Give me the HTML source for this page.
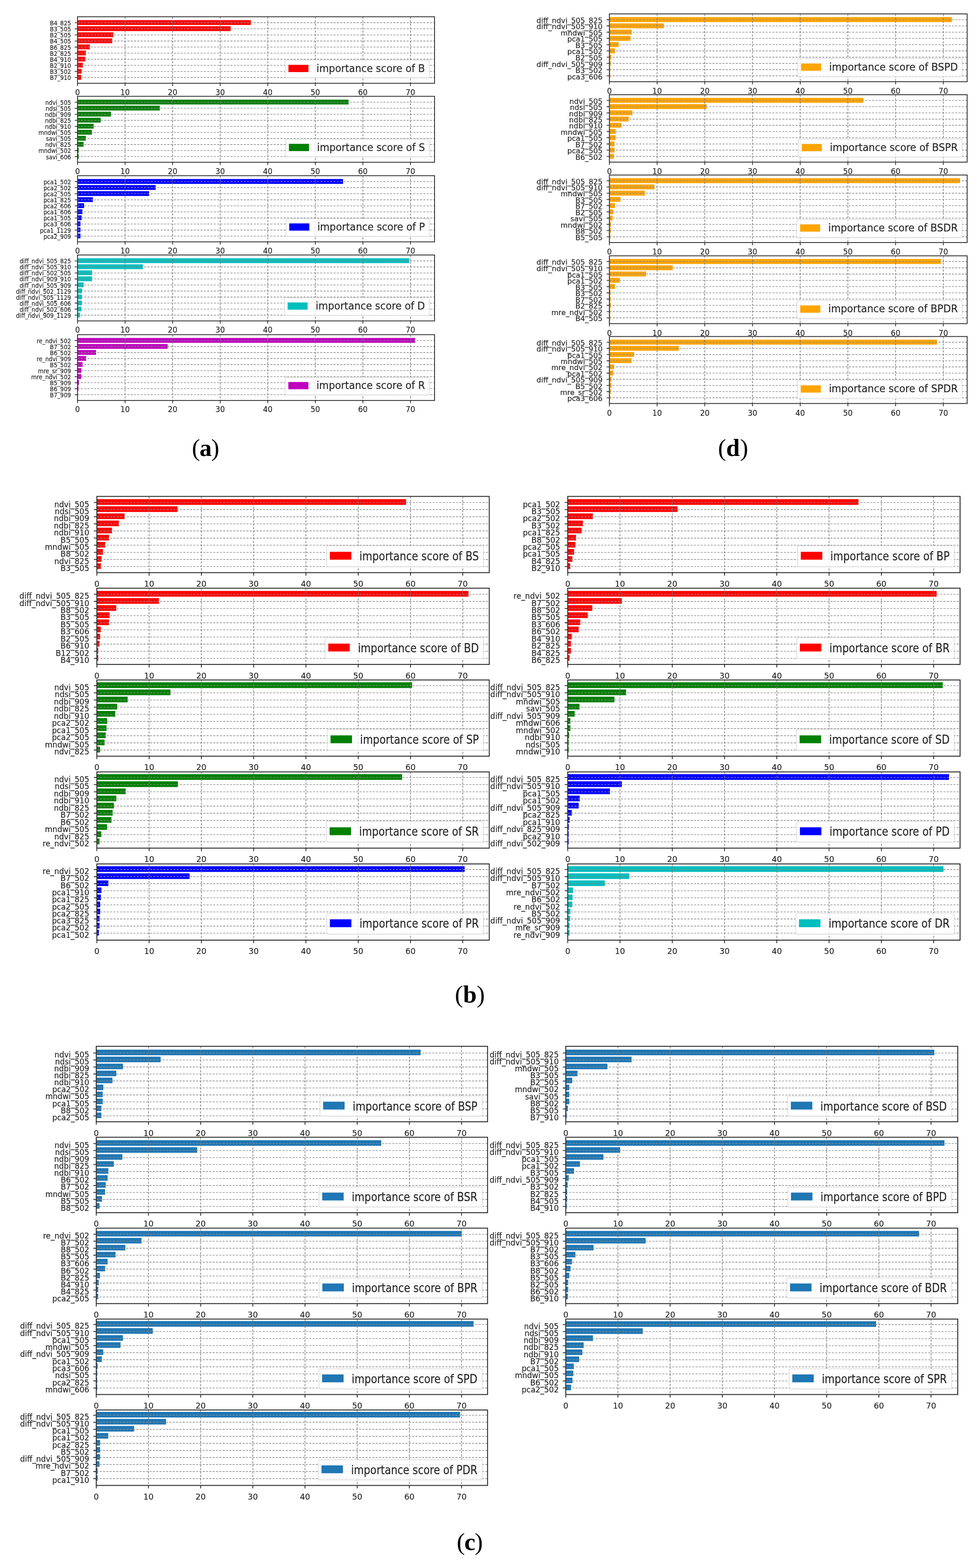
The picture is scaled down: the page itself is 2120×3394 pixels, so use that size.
<!DOCTYPE html>
<html><head><meta charset="utf-8"><title>Feature importance scores</title>
<style>html,body{margin:0;padding:0;background:#fff;}body{width:2120px;height:3394px;overflow:hidden;}svg{display:block;}</style></head><body>
<svg width="2120" height="3394" viewBox="0 0 2120 3394" font-family="'DejaVu Sans', 'Liberation Sans', sans-serif" fill="#262626">
<style>text{stroke:#262626;stroke-width:0.2px;}</style>
<rect x="167.8" y="43.54" width="375.44" height="10.54" fill="#ff0000"/>
<rect x="167.8" y="56.72" width="331.66" height="10.54" fill="#ff0000"/>
<rect x="167.8" y="69.89" width="77.77" height="10.54" fill="#ff0000"/>
<rect x="167.8" y="83.07" width="75.19" height="10.54" fill="#ff0000"/>
<rect x="167.8" y="96.24" width="26.78" height="10.54" fill="#ff0000"/>
<rect x="167.8" y="109.42" width="18.03" height="10.54" fill="#ff0000"/>
<rect x="167.8" y="122.59" width="17" height="10.54" fill="#ff0000"/>
<rect x="167.8" y="135.77" width="11.64" height="10.54" fill="#ff0000"/>
<rect x="167.8" y="148.94" width="8.96" height="10.54" fill="#ff0000"/>
<rect x="167.8" y="162.12" width="7.93" height="10.54" fill="#ff0000"/>
<path d="M167.8 49.21H941M167.8 62.39H941M167.8 75.56H941M167.8 88.74H941M167.8 101.91H941M167.8 115.09H941M167.8 128.26H941M167.8 141.44H941M167.8 154.61H941M167.8 167.79H941" stroke="#8a8a8a" stroke-width="1.35" stroke-dasharray="4.6 2.6" fill="none"/>
<path d="M167.8 36.3V180.3M270.8 36.3V180.3M373.8 36.3V180.3M476.8 36.3V180.3M579.8 36.3V180.3M682.8 36.3V180.3M785.8 36.3V180.3M888.8 36.3V180.3" stroke="#767676" stroke-width="1.35" stroke-dasharray="4.8 2.6" fill="none"/>
<rect x="617.67" y="130.2" width="312.13" height="38.4" rx="3" fill="#fff" fill-opacity="0.8" stroke="#d2d2d2" stroke-width="1.2"/>
<rect x="624.57" y="140.35" width="43.4" height="15.7" fill="#ff0000"/>
<text transform="translate(685.37 155.65) scale(1 1.1)" font-size="21.35">importance score of B</text>
<rect x="167.8" y="36.3" width="773.2" height="144" fill="none" stroke="#2a2a2a" stroke-width="1.8"/>
<path d="M161.8 49.21H167.8M161.8 62.39H167.8M161.8 75.56H167.8M161.8 88.74H167.8M161.8 101.91H167.8M161.8 115.09H167.8M161.8 128.26H167.8M161.8 141.44H167.8M161.8 154.61H167.8M161.8 167.79H167.8M167.8 180.3V186.3M270.8 180.3V186.3M373.8 180.3V186.3M476.8 180.3V186.3M579.8 180.3V186.3M682.8 180.3V186.3M785.8 180.3V186.3M888.8 180.3V186.3" stroke="#2a2a2a" stroke-width="1.62" fill="none"/>
<text transform="translate(167.8 205.6) scale(1 1.05)" font-size="16.2" text-anchor="middle">0</text>
<text transform="translate(270.8 205.6) scale(1 1.05)" font-size="16.2" text-anchor="middle">10</text>
<text transform="translate(373.8 205.6) scale(1 1.05)" font-size="16.2" text-anchor="middle">20</text>
<text transform="translate(476.8 205.6) scale(1 1.05)" font-size="16.2" text-anchor="middle">30</text>
<text transform="translate(579.8 205.6) scale(1 1.05)" font-size="16.2" text-anchor="middle">40</text>
<text transform="translate(682.8 205.6) scale(1 1.05)" font-size="16.2" text-anchor="middle">50</text>
<text transform="translate(785.8 205.6) scale(1 1.05)" font-size="16.2" text-anchor="middle">60</text>
<text transform="translate(888.8 205.6) scale(1 1.05)" font-size="16.2" text-anchor="middle">70</text>
<text transform="translate(153.8 54.82) scale(1 1.13)" font-size="12.3" text-anchor="end">B4_825</text>
<text transform="translate(153.8 67.99) scale(1 1.13)" font-size="12.3" text-anchor="end">B3_505</text>
<text transform="translate(153.8 81.17) scale(1 1.13)" font-size="12.3" text-anchor="end">B2_505</text>
<text transform="translate(153.8 94.34) scale(1 1.13)" font-size="12.3" text-anchor="end">B4_505</text>
<text transform="translate(153.8 107.52) scale(1 1.13)" font-size="12.3" text-anchor="end">B6_825</text>
<text transform="translate(153.8 120.69) scale(1 1.13)" font-size="12.3" text-anchor="end">B2_825</text>
<text transform="translate(153.8 133.87) scale(1 1.13)" font-size="12.3" text-anchor="end">B4_910</text>
<text transform="translate(153.8 147.04) scale(1 1.13)" font-size="12.3" text-anchor="end">B2_910</text>
<text transform="translate(153.8 160.22) scale(1 1.13)" font-size="12.3" text-anchor="end">B3_502</text>
<text transform="translate(153.8 173.39) scale(1 1.13)" font-size="12.3" text-anchor="end">B7_910</text>
<rect x="167.8" y="215.68" width="587.1" height="10.45" fill="#008000"/>
<rect x="167.8" y="228.75" width="178.19" height="10.45" fill="#008000"/>
<rect x="167.8" y="241.81" width="72.51" height="10.45" fill="#008000"/>
<rect x="167.8" y="254.88" width="50.26" height="10.45" fill="#008000"/>
<rect x="167.8" y="267.94" width="34.92" height="10.45" fill="#008000"/>
<rect x="167.8" y="281.01" width="31.21" height="10.45" fill="#008000"/>
<rect x="167.8" y="294.07" width="18.03" height="10.45" fill="#008000"/>
<rect x="167.8" y="307.14" width="13.18" height="10.45" fill="#008000"/>
<rect x="167.8" y="320.2" width="2.68" height="10.45" fill="#008000"/>
<rect x="167.8" y="333.27" width="2.68" height="10.45" fill="#008000"/>
<path d="M167.8 221.31H941M167.8 234.37H941M167.8 247.44H941M167.8 260.5H941M167.8 273.57H941M167.8 286.63H941M167.8 299.7H941M167.8 312.76H941M167.8 325.83H941M167.8 338.89H941" stroke="#8a8a8a" stroke-width="1.35" stroke-dasharray="4.6 2.6" fill="none"/>
<path d="M167.8 208.5V351.3M270.8 208.5V351.3M373.8 208.5V351.3M476.8 208.5V351.3M579.8 208.5V351.3M682.8 208.5V351.3M785.8 208.5V351.3M888.8 208.5V351.3" stroke="#767676" stroke-width="1.35" stroke-dasharray="4.8 2.6" fill="none"/>
<rect x="618.76" y="301.2" width="311.04" height="38.4" rx="3" fill="#fff" fill-opacity="0.8" stroke="#d2d2d2" stroke-width="1.2"/>
<rect x="625.66" y="311.35" width="43.4" height="15.7" fill="#008000"/>
<text transform="translate(686.46 326.65) scale(1 1.1)" font-size="21.35">importance score of S</text>
<rect x="167.8" y="208.5" width="773.2" height="142.8" fill="none" stroke="#2a2a2a" stroke-width="1.8"/>
<path d="M161.8 221.31H167.8M161.8 234.37H167.8M161.8 247.44H167.8M161.8 260.5H167.8M161.8 273.57H167.8M161.8 286.63H167.8M161.8 299.7H167.8M161.8 312.76H167.8M161.8 325.83H167.8M161.8 338.89H167.8M167.8 351.3V357.3M270.8 351.3V357.3M373.8 351.3V357.3M476.8 351.3V357.3M579.8 351.3V357.3M682.8 351.3V357.3M785.8 351.3V357.3M888.8 351.3V357.3" stroke="#2a2a2a" stroke-width="1.62" fill="none"/>
<text transform="translate(167.8 376.6) scale(1 1.05)" font-size="16.2" text-anchor="middle">0</text>
<text transform="translate(270.8 376.6) scale(1 1.05)" font-size="16.2" text-anchor="middle">10</text>
<text transform="translate(373.8 376.6) scale(1 1.05)" font-size="16.2" text-anchor="middle">20</text>
<text transform="translate(476.8 376.6) scale(1 1.05)" font-size="16.2" text-anchor="middle">30</text>
<text transform="translate(579.8 376.6) scale(1 1.05)" font-size="16.2" text-anchor="middle">40</text>
<text transform="translate(682.8 376.6) scale(1 1.05)" font-size="16.2" text-anchor="middle">50</text>
<text transform="translate(785.8 376.6) scale(1 1.05)" font-size="16.2" text-anchor="middle">60</text>
<text transform="translate(888.8 376.6) scale(1 1.05)" font-size="16.2" text-anchor="middle">70</text>
<text transform="translate(153.8 226.91) scale(1 1.13)" font-size="12.3" text-anchor="end">ndvi_505</text>
<text transform="translate(153.8 239.98) scale(1 1.13)" font-size="12.3" text-anchor="end">ndsi_505</text>
<text transform="translate(153.8 253.04) scale(1 1.13)" font-size="12.3" text-anchor="end">ndbi_909</text>
<text transform="translate(153.8 266.11) scale(1 1.13)" font-size="12.3" text-anchor="end">ndbi_825</text>
<text transform="translate(153.8 279.17) scale(1 1.13)" font-size="12.3" text-anchor="end">ndbi_910</text>
<text transform="translate(153.8 292.24) scale(1 1.13)" font-size="12.3" text-anchor="end">mndwi_505</text>
<text transform="translate(153.8 305.3) scale(1 1.13)" font-size="12.3" text-anchor="end">savi_505</text>
<text transform="translate(153.8 318.37) scale(1 1.13)" font-size="12.3" text-anchor="end">ndvi_825</text>
<text transform="translate(153.8 331.43) scale(1 1.13)" font-size="12.3" text-anchor="end">mndwi_502</text>
<text transform="translate(153.8 344.5) scale(1 1.13)" font-size="12.3" text-anchor="end">savi_606</text>
<rect x="167.8" y="387.5" width="575.05" height="10.48" fill="#0000ff"/>
<rect x="167.8" y="400.6" width="169.33" height="10.48" fill="#0000ff"/>
<rect x="167.8" y="413.71" width="155.02" height="10.48" fill="#0000ff"/>
<rect x="167.8" y="426.81" width="33.37" height="10.48" fill="#0000ff"/>
<rect x="167.8" y="439.91" width="14.32" height="10.48" fill="#0000ff"/>
<rect x="167.8" y="453.01" width="10.61" height="10.48" fill="#0000ff"/>
<rect x="167.8" y="466.11" width="8.96" height="10.48" fill="#0000ff"/>
<rect x="167.8" y="479.21" width="6.39" height="10.48" fill="#0000ff"/>
<rect x="167.8" y="492.31" width="6.39" height="10.48" fill="#0000ff"/>
<rect x="167.8" y="505.42" width="6.39" height="10.48" fill="#0000ff"/>
<path d="M167.8 393.14H941M167.8 406.24H941M167.8 419.35H941M167.8 432.45H941M167.8 445.55H941M167.8 458.65H941M167.8 471.75H941M167.8 484.85H941M167.8 497.96H941M167.8 511.06H941" stroke="#8a8a8a" stroke-width="1.35" stroke-dasharray="4.6 2.6" fill="none"/>
<path d="M167.8 380.3V523.5M270.8 380.3V523.5M373.8 380.3V523.5M476.8 380.3V523.5M579.8 380.3V523.5M682.8 380.3V523.5M785.8 380.3V523.5M888.8 380.3V523.5" stroke="#767676" stroke-width="1.35" stroke-dasharray="4.8 2.6" fill="none"/>
<rect x="619.44" y="473.4" width="310.36" height="38.4" rx="3" fill="#fff" fill-opacity="0.8" stroke="#d2d2d2" stroke-width="1.2"/>
<rect x="626.34" y="483.55" width="43.4" height="15.7" fill="#0000ff"/>
<text transform="translate(687.14 498.85) scale(1 1.1)" font-size="21.35">importance score of P</text>
<rect x="167.8" y="380.3" width="773.2" height="143.2" fill="none" stroke="#2a2a2a" stroke-width="1.8"/>
<path d="M161.8 393.14H167.8M161.8 406.24H167.8M161.8 419.35H167.8M161.8 432.45H167.8M161.8 445.55H167.8M161.8 458.65H167.8M161.8 471.75H167.8M161.8 484.85H167.8M161.8 497.96H167.8M161.8 511.06H167.8M167.8 523.5V529.5M270.8 523.5V529.5M373.8 523.5V529.5M476.8 523.5V529.5M579.8 523.5V529.5M682.8 523.5V529.5M785.8 523.5V529.5M888.8 523.5V529.5" stroke="#2a2a2a" stroke-width="1.62" fill="none"/>
<text transform="translate(167.8 548.8) scale(1 1.05)" font-size="16.2" text-anchor="middle">0</text>
<text transform="translate(270.8 548.8) scale(1 1.05)" font-size="16.2" text-anchor="middle">10</text>
<text transform="translate(373.8 548.8) scale(1 1.05)" font-size="16.2" text-anchor="middle">20</text>
<text transform="translate(476.8 548.8) scale(1 1.05)" font-size="16.2" text-anchor="middle">30</text>
<text transform="translate(579.8 548.8) scale(1 1.05)" font-size="16.2" text-anchor="middle">40</text>
<text transform="translate(682.8 548.8) scale(1 1.05)" font-size="16.2" text-anchor="middle">50</text>
<text transform="translate(785.8 548.8) scale(1 1.05)" font-size="16.2" text-anchor="middle">60</text>
<text transform="translate(888.8 548.8) scale(1 1.05)" font-size="16.2" text-anchor="middle">70</text>
<text transform="translate(153.8 398.75) scale(1 1.13)" font-size="12.3" text-anchor="end">pca1_502</text>
<text transform="translate(153.8 411.85) scale(1 1.13)" font-size="12.3" text-anchor="end">pca2_502</text>
<text transform="translate(153.8 424.95) scale(1 1.13)" font-size="12.3" text-anchor="end">pca2_505</text>
<text transform="translate(153.8 438.05) scale(1 1.13)" font-size="12.3" text-anchor="end">pca1_825</text>
<text transform="translate(153.8 451.15) scale(1 1.13)" font-size="12.3" text-anchor="end">pca2_606</text>
<text transform="translate(153.8 464.25) scale(1 1.13)" font-size="12.3" text-anchor="end">pca1_606</text>
<text transform="translate(153.8 477.36) scale(1 1.13)" font-size="12.3" text-anchor="end">pca1_505</text>
<text transform="translate(153.8 490.46) scale(1 1.13)" font-size="12.3" text-anchor="end">pca3_606</text>
<text transform="translate(153.8 503.56) scale(1 1.13)" font-size="12.3" text-anchor="end">pca1_1129</text>
<text transform="translate(153.8 516.66) scale(1 1.13)" font-size="12.3" text-anchor="end">pca2_909</text>
<rect x="167.8" y="559.08" width="718.43" height="10.44" fill="#00bfbf"/>
<rect x="167.8" y="572.13" width="141.73" height="10.44" fill="#00bfbf"/>
<rect x="167.8" y="585.19" width="31.52" height="10.44" fill="#00bfbf"/>
<rect x="167.8" y="598.24" width="31.52" height="10.44" fill="#00bfbf"/>
<rect x="167.8" y="611.3" width="13.39" height="10.44" fill="#00bfbf"/>
<rect x="167.8" y="624.36" width="9.79" height="10.44" fill="#00bfbf"/>
<rect x="167.8" y="637.41" width="9.58" height="10.44" fill="#00bfbf"/>
<rect x="167.8" y="650.47" width="9.58" height="10.44" fill="#00bfbf"/>
<rect x="167.8" y="663.52" width="8.45" height="10.44" fill="#00bfbf"/>
<rect x="167.8" y="676.58" width="5.67" height="10.44" fill="#00bfbf"/>
<path d="M167.8 564.7H941M167.8 577.75H941M167.8 590.81H941M167.8 603.87H941M167.8 616.92H941M167.8 629.98H941M167.8 643.03H941M167.8 656.09H941M167.8 669.15H941M167.8 682.2H941" stroke="#8a8a8a" stroke-width="1.35" stroke-dasharray="4.6 2.6" fill="none"/>
<path d="M167.8 551.9V694.6M270.8 551.9V694.6M373.8 551.9V694.6M476.8 551.9V694.6M579.8 551.9V694.6M682.8 551.9V694.6M785.8 551.9V694.6M888.8 551.9V694.6" stroke="#767676" stroke-width="1.35" stroke-dasharray="4.8 2.6" fill="none"/>
<rect x="615.88" y="644.5" width="313.92" height="38.4" rx="3" fill="#fff" fill-opacity="0.8" stroke="#d2d2d2" stroke-width="1.2"/>
<rect x="622.78" y="654.65" width="43.4" height="15.7" fill="#00bfbf"/>
<text transform="translate(683.58 669.95) scale(1 1.1)" font-size="21.35">importance score of D</text>
<rect x="167.8" y="551.9" width="773.2" height="142.7" fill="none" stroke="#2a2a2a" stroke-width="1.8"/>
<path d="M161.8 564.7H167.8M161.8 577.75H167.8M161.8 590.81H167.8M161.8 603.87H167.8M161.8 616.92H167.8M161.8 629.98H167.8M161.8 643.03H167.8M161.8 656.09H167.8M161.8 669.15H167.8M161.8 682.2H167.8M167.8 694.6V700.6M270.8 694.6V700.6M373.8 694.6V700.6M476.8 694.6V700.6M579.8 694.6V700.6M682.8 694.6V700.6M785.8 694.6V700.6M888.8 694.6V700.6" stroke="#2a2a2a" stroke-width="1.62" fill="none"/>
<text transform="translate(167.8 719.9) scale(1 1.05)" font-size="16.2" text-anchor="middle">0</text>
<text transform="translate(270.8 719.9) scale(1 1.05)" font-size="16.2" text-anchor="middle">10</text>
<text transform="translate(373.8 719.9) scale(1 1.05)" font-size="16.2" text-anchor="middle">20</text>
<text transform="translate(476.8 719.9) scale(1 1.05)" font-size="16.2" text-anchor="middle">30</text>
<text transform="translate(579.8 719.9) scale(1 1.05)" font-size="16.2" text-anchor="middle">40</text>
<text transform="translate(682.8 719.9) scale(1 1.05)" font-size="16.2" text-anchor="middle">50</text>
<text transform="translate(785.8 719.9) scale(1 1.05)" font-size="16.2" text-anchor="middle">60</text>
<text transform="translate(888.8 719.9) scale(1 1.05)" font-size="16.2" text-anchor="middle">70</text>
<text transform="translate(153.8 570.3) scale(1 1.13)" font-size="12.3" text-anchor="end">diff_ndvi_505_825</text>
<text transform="translate(153.8 583.36) scale(1 1.13)" font-size="12.3" text-anchor="end">diff_ndvi_505_910</text>
<text transform="translate(153.8 596.41) scale(1 1.13)" font-size="12.3" text-anchor="end">diff_ndvi_502_505</text>
<text transform="translate(153.8 609.47) scale(1 1.13)" font-size="12.3" text-anchor="end">diff_ndvi_909_910</text>
<text transform="translate(153.8 622.53) scale(1 1.13)" font-size="12.3" text-anchor="end">diff_ndvi_505_909</text>
<text transform="translate(153.8 635.58) scale(1 1.13)" font-size="12.3" text-anchor="end">diff_ndvi_502_1129</text>
<text transform="translate(153.8 648.64) scale(1 1.13)" font-size="12.3" text-anchor="end">diff_ndvi_505_1129</text>
<text transform="translate(153.8 661.69) scale(1 1.13)" font-size="12.3" text-anchor="end">diff_ndvi_505_606</text>
<text transform="translate(153.8 674.75) scale(1 1.13)" font-size="12.3" text-anchor="end">diff_ndvi_502_606</text>
<text transform="translate(153.8 687.8) scale(1 1.13)" font-size="12.3" text-anchor="end">diff_ndvi_909_1129</text>
<rect x="167.8" y="731.56" width="731.09" height="10.42" fill="#bf00bf"/>
<rect x="167.8" y="744.59" width="195.19" height="10.42" fill="#bf00bf"/>
<rect x="167.8" y="757.62" width="40.17" height="10.42" fill="#bf00bf"/>
<rect x="167.8" y="770.65" width="18.54" height="10.42" fill="#bf00bf"/>
<rect x="167.8" y="783.67" width="11.12" height="10.42" fill="#bf00bf"/>
<rect x="167.8" y="796.7" width="8.45" height="10.42" fill="#bf00bf"/>
<rect x="167.8" y="809.73" width="8.45" height="10.42" fill="#bf00bf"/>
<rect x="167.8" y="822.76" width="3.19" height="10.42" fill="#bf00bf"/>
<rect x="167.8" y="835.79" width="2" height="10.42" fill="#bf00bf"/>
<path d="M167.8 737.17H941M167.8 750.2H941M167.8 763.23H941M167.8 776.26H941M167.8 789.29H941M167.8 802.31H941M167.8 815.34H941M167.8 828.37H941M167.8 841.4H941M167.8 854.43H941" stroke="#8a8a8a" stroke-width="1.35" stroke-dasharray="4.6 2.6" fill="none"/>
<path d="M167.8 724.4V866.8M270.8 724.4V866.8M373.8 724.4V866.8M476.8 724.4V866.8M579.8 724.4V866.8M682.8 724.4V866.8M785.8 724.4V866.8M888.8 724.4V866.8" stroke="#767676" stroke-width="1.35" stroke-dasharray="4.8 2.6" fill="none"/>
<rect x="617.48" y="816.7" width="312.32" height="38.4" rx="3" fill="#fff" fill-opacity="0.8" stroke="#d2d2d2" stroke-width="1.2"/>
<rect x="624.38" y="826.85" width="43.4" height="15.7" fill="#bf00bf"/>
<text transform="translate(685.18 842.15) scale(1 1.1)" font-size="21.35">importance score of R</text>
<rect x="167.8" y="724.4" width="773.2" height="142.4" fill="none" stroke="#2a2a2a" stroke-width="1.8"/>
<path d="M161.8 737.17H167.8M161.8 750.2H167.8M161.8 763.23H167.8M161.8 776.26H167.8M161.8 789.29H167.8M161.8 802.31H167.8M161.8 815.34H167.8M161.8 828.37H167.8M161.8 841.4H167.8M161.8 854.43H167.8M167.8 866.8V872.8M270.8 866.8V872.8M373.8 866.8V872.8M476.8 866.8V872.8M579.8 866.8V872.8M682.8 866.8V872.8M785.8 866.8V872.8M888.8 866.8V872.8" stroke="#2a2a2a" stroke-width="1.62" fill="none"/>
<text transform="translate(167.8 892.1) scale(1 1.05)" font-size="16.2" text-anchor="middle">0</text>
<text transform="translate(270.8 892.1) scale(1 1.05)" font-size="16.2" text-anchor="middle">10</text>
<text transform="translate(373.8 892.1) scale(1 1.05)" font-size="16.2" text-anchor="middle">20</text>
<text transform="translate(476.8 892.1) scale(1 1.05)" font-size="16.2" text-anchor="middle">30</text>
<text transform="translate(579.8 892.1) scale(1 1.05)" font-size="16.2" text-anchor="middle">40</text>
<text transform="translate(682.8 892.1) scale(1 1.05)" font-size="16.2" text-anchor="middle">50</text>
<text transform="translate(785.8 892.1) scale(1 1.05)" font-size="16.2" text-anchor="middle">60</text>
<text transform="translate(888.8 892.1) scale(1 1.05)" font-size="16.2" text-anchor="middle">70</text>
<text transform="translate(153.8 742.78) scale(1 1.13)" font-size="12.3" text-anchor="end">re_ndvi_502</text>
<text transform="translate(153.8 755.8) scale(1 1.13)" font-size="12.3" text-anchor="end">B7_502</text>
<text transform="translate(153.8 768.83) scale(1 1.13)" font-size="12.3" text-anchor="end">B6_502</text>
<text transform="translate(153.8 781.86) scale(1 1.13)" font-size="12.3" text-anchor="end">re_ndvi_909</text>
<text transform="translate(153.8 794.89) scale(1 1.13)" font-size="12.3" text-anchor="end">B5_502</text>
<text transform="translate(153.8 807.92) scale(1 1.13)" font-size="12.3" text-anchor="end">mre_sr_909</text>
<text transform="translate(153.8 820.95) scale(1 1.13)" font-size="12.3" text-anchor="end">mre_ndvi_502</text>
<text transform="translate(153.8 833.97) scale(1 1.13)" font-size="12.3" text-anchor="end">B5_909</text>
<text transform="translate(153.8 847) scale(1 1.13)" font-size="12.3" text-anchor="end">B6_909</text>
<text transform="translate(153.8 860.03) scale(1 1.13)" font-size="12.3" text-anchor="end">B7_909</text>
<rect x="1319.6" y="37" width="741.69" height="10.82" fill="#ffa500"/>
<rect x="1319.6" y="50.52" width="118.07" height="10.82" fill="#ffa500"/>
<rect x="1319.6" y="64.04" width="48.34" height="10.82" fill="#ffa500"/>
<rect x="1319.6" y="77.56" width="45.66" height="10.82" fill="#ffa500"/>
<rect x="1319.6" y="91.08" width="20.04" height="10.82" fill="#ffa500"/>
<rect x="1319.6" y="104.6" width="11.98" height="10.82" fill="#ffa500"/>
<rect x="1319.6" y="118.12" width="4.34" height="10.82" fill="#ffa500"/>
<rect x="1319.6" y="131.64" width="2.89" height="10.82" fill="#ffa500"/>
<rect x="1319.6" y="145.16" width="2" height="10.82" fill="#ffa500"/>
<rect x="1319.6" y="158.69" width="2" height="10.82" fill="#ffa500"/>
<path d="M1319.6 42.61H2094.4M1319.6 56.13H2094.4M1319.6 69.65H2094.4M1319.6 83.17H2094.4M1319.6 96.69H2094.4M1319.6 110.21H2094.4M1319.6 123.73H2094.4M1319.6 137.25H2094.4M1319.6 150.77H2094.4M1319.6 164.29H2094.4" stroke="#8a8a8a" stroke-width="1.35" stroke-dasharray="4.6 2.6" fill="none"/>
<path d="M1319.6 30.1V176.8M1422.9 30.1V176.8M1526.2 30.1V176.8M1629.5 30.1V176.8M1732.8 30.1V176.8M1836.1 30.1V176.8M1939.4 30.1V176.8M2042.7 30.1V176.8" stroke="#767676" stroke-width="1.35" stroke-dasharray="4.8 2.6" fill="none"/>
<rect x="1727.14" y="126.7" width="356.36" height="39.7" rx="3" fill="#fff" fill-opacity="0.8" stroke="#d2d2d2" stroke-width="1.2"/>
<rect x="1734.64" y="137.5" width="43.4" height="15.7" fill="#ffa500"/>
<text transform="translate(1795.44 152.75) scale(1 1.1)" font-size="21.46">importance score of BSPD</text>
<rect x="1319.6" y="30.1" width="774.8" height="146.7" fill="none" stroke="#2a2a2a" stroke-width="1.8"/>
<path d="M1313.6 42.61H1319.6M1313.6 56.13H1319.6M1313.6 69.65H1319.6M1313.6 83.17H1319.6M1313.6 96.69H1319.6M1313.6 110.21H1319.6M1313.6 123.73H1319.6M1313.6 137.25H1319.6M1313.6 150.77H1319.6M1313.6 164.29H1319.6M1319.6 176.8V182.8M1422.9 176.8V182.8M1526.2 176.8V182.8M1629.5 176.8V182.8M1732.8 176.8V182.8M1836.1 176.8V182.8M1939.4 176.8V182.8M2042.7 176.8V182.8" stroke="#2a2a2a" stroke-width="1.62" fill="none"/>
<text transform="translate(1319.6 203) scale(1 1.05)" font-size="16.2" text-anchor="middle">0</text>
<text transform="translate(1422.9 203) scale(1 1.05)" font-size="16.2" text-anchor="middle">10</text>
<text transform="translate(1526.2 203) scale(1 1.05)" font-size="16.2" text-anchor="middle">20</text>
<text transform="translate(1629.5 203) scale(1 1.05)" font-size="16.2" text-anchor="middle">30</text>
<text transform="translate(1732.8 203) scale(1 1.05)" font-size="16.2" text-anchor="middle">40</text>
<text transform="translate(1836.1 203) scale(1 1.05)" font-size="16.2" text-anchor="middle">50</text>
<text transform="translate(1939.4 203) scale(1 1.05)" font-size="16.2" text-anchor="middle">60</text>
<text transform="translate(2042.7 203) scale(1 1.05)" font-size="16.2" text-anchor="middle">70</text>
<text transform="translate(1304.8 49.87) scale(1 0.96)" font-size="15.8" text-anchor="end">diff_ndvi_505_825</text>
<text transform="translate(1304.8 63.39) scale(1 0.96)" font-size="15.8" text-anchor="end">diff_ndvi_505_910</text>
<text transform="translate(1304.8 76.91) scale(1 0.96)" font-size="15.8" text-anchor="end">mndwi_505</text>
<text transform="translate(1304.8 90.43) scale(1 0.96)" font-size="15.8" text-anchor="end">pca1_505</text>
<text transform="translate(1304.8 103.95) scale(1 0.96)" font-size="15.8" text-anchor="end">B3_505</text>
<text transform="translate(1304.8 117.47) scale(1 0.96)" font-size="15.8" text-anchor="end">pca1_502</text>
<text transform="translate(1304.8 130.99) scale(1 0.96)" font-size="15.8" text-anchor="end">B2_505</text>
<text transform="translate(1304.8 144.51) scale(1 0.96)" font-size="15.8" text-anchor="end">diff_ndvi_505_909</text>
<text transform="translate(1304.8 158.03) scale(1 0.96)" font-size="15.8" text-anchor="end">B3_502</text>
<text transform="translate(1304.8 171.55) scale(1 0.96)" font-size="15.8" text-anchor="end">pca3_606</text>
<rect x="1319.6" y="211.86" width="549.87" height="10.76" fill="#ffa500"/>
<rect x="1319.6" y="225.31" width="210.73" height="10.76" fill="#ffa500"/>
<rect x="1319.6" y="238.75" width="49.79" height="10.76" fill="#ffa500"/>
<rect x="1319.6" y="252.2" width="41.94" height="10.76" fill="#ffa500"/>
<rect x="1319.6" y="265.65" width="26.24" height="10.76" fill="#ffa500"/>
<rect x="1319.6" y="279.09" width="13.74" height="10.76" fill="#ffa500"/>
<rect x="1319.6" y="292.54" width="13.74" height="10.76" fill="#ffa500"/>
<rect x="1319.6" y="305.99" width="10.95" height="10.76" fill="#ffa500"/>
<rect x="1319.6" y="319.44" width="10.95" height="10.76" fill="#ffa500"/>
<rect x="1319.6" y="332.88" width="9.71" height="10.76" fill="#ffa500"/>
<path d="M1319.6 217.44H2094.4M1319.6 230.89H2094.4M1319.6 244.33H2094.4M1319.6 257.78H2094.4M1319.6 271.23H2094.4M1319.6 284.67H2094.4M1319.6 298.12H2094.4M1319.6 311.57H2094.4M1319.6 325.01H2094.4M1319.6 338.46H2094.4" stroke="#8a8a8a" stroke-width="1.35" stroke-dasharray="4.6 2.6" fill="none"/>
<path d="M1319.6 205V350.9M1422.9 205V350.9M1526.2 205V350.9M1629.5 205V350.9M1732.8 205V350.9M1836.1 205V350.9M1939.4 205V350.9M2042.7 205V350.9" stroke="#767676" stroke-width="1.35" stroke-dasharray="4.8 2.6" fill="none"/>
<rect x="1728.76" y="300.8" width="354.74" height="39.7" rx="3" fill="#fff" fill-opacity="0.8" stroke="#d2d2d2" stroke-width="1.2"/>
<rect x="1736.26" y="311.6" width="43.4" height="15.7" fill="#ffa500"/>
<text transform="translate(1797.06 326.85) scale(1 1.1)" font-size="21.46">importance score of BSPR</text>
<rect x="1319.6" y="205" width="774.8" height="145.9" fill="none" stroke="#2a2a2a" stroke-width="1.8"/>
<path d="M1313.6 217.44H1319.6M1313.6 230.89H1319.6M1313.6 244.33H1319.6M1313.6 257.78H1319.6M1313.6 271.23H1319.6M1313.6 284.67H1319.6M1313.6 298.12H1319.6M1313.6 311.57H1319.6M1313.6 325.01H1319.6M1313.6 338.46H1319.6M1319.6 350.9V356.9M1422.9 350.9V356.9M1526.2 350.9V356.9M1629.5 350.9V356.9M1732.8 350.9V356.9M1836.1 350.9V356.9M1939.4 350.9V356.9M2042.7 350.9V356.9" stroke="#2a2a2a" stroke-width="1.62" fill="none"/>
<text transform="translate(1319.6 377.1) scale(1 1.05)" font-size="16.2" text-anchor="middle">0</text>
<text transform="translate(1422.9 377.1) scale(1 1.05)" font-size="16.2" text-anchor="middle">10</text>
<text transform="translate(1526.2 377.1) scale(1 1.05)" font-size="16.2" text-anchor="middle">20</text>
<text transform="translate(1629.5 377.1) scale(1 1.05)" font-size="16.2" text-anchor="middle">30</text>
<text transform="translate(1732.8 377.1) scale(1 1.05)" font-size="16.2" text-anchor="middle">40</text>
<text transform="translate(1836.1 377.1) scale(1 1.05)" font-size="16.2" text-anchor="middle">50</text>
<text transform="translate(1939.4 377.1) scale(1 1.05)" font-size="16.2" text-anchor="middle">60</text>
<text transform="translate(2042.7 377.1) scale(1 1.05)" font-size="16.2" text-anchor="middle">70</text>
<text transform="translate(1304.8 224.7) scale(1 0.96)" font-size="15.8" text-anchor="end">ndvi_505</text>
<text transform="translate(1304.8 238.15) scale(1 0.96)" font-size="15.8" text-anchor="end">ndsi_505</text>
<text transform="translate(1304.8 251.59) scale(1 0.96)" font-size="15.8" text-anchor="end">ndbi_909</text>
<text transform="translate(1304.8 265.04) scale(1 0.96)" font-size="15.8" text-anchor="end">ndbi_825</text>
<text transform="translate(1304.8 278.49) scale(1 0.96)" font-size="15.8" text-anchor="end">ndbi_910</text>
<text transform="translate(1304.8 291.93) scale(1 0.96)" font-size="15.8" text-anchor="end">mndwi_505</text>
<text transform="translate(1304.8 305.38) scale(1 0.96)" font-size="15.8" text-anchor="end">pca1_505</text>
<text transform="translate(1304.8 318.83) scale(1 0.96)" font-size="15.8" text-anchor="end">B7_502</text>
<text transform="translate(1304.8 332.27) scale(1 0.96)" font-size="15.8" text-anchor="end">pca2_505</text>
<text transform="translate(1304.8 345.72) scale(1 0.96)" font-size="15.8" text-anchor="end">B6_502</text>
<rect x="1319.6" y="385.67" width="759.25" height="10.78" fill="#ffa500"/>
<rect x="1319.6" y="399.15" width="97.52" height="10.78" fill="#ffa500"/>
<rect x="1319.6" y="412.62" width="76.86" height="10.78" fill="#ffa500"/>
<rect x="1319.6" y="426.1" width="23.86" height="10.78" fill="#ffa500"/>
<rect x="1319.6" y="439.57" width="12.19" height="10.78" fill="#ffa500"/>
<rect x="1319.6" y="453.05" width="8.47" height="10.78" fill="#ffa500"/>
<rect x="1319.6" y="466.52" width="6.92" height="10.78" fill="#ffa500"/>
<rect x="1319.6" y="480" width="3.31" height="10.78" fill="#ffa500"/>
<rect x="1319.6" y="493.47" width="3.31" height="10.78" fill="#ffa500"/>
<rect x="1319.6" y="506.95" width="2" height="10.78" fill="#ffa500"/>
<path d="M1319.6 391.26H2094.4M1319.6 404.74H2094.4M1319.6 418.21H2094.4M1319.6 431.69H2094.4M1319.6 445.16H2094.4M1319.6 458.64H2094.4M1319.6 472.11H2094.4M1319.6 485.59H2094.4M1319.6 499.06H2094.4M1319.6 512.54H2094.4" stroke="#8a8a8a" stroke-width="1.35" stroke-dasharray="4.6 2.6" fill="none"/>
<path d="M1319.6 378.8V525M1422.9 378.8V525M1526.2 378.8V525M1629.5 378.8V525M1732.8 378.8V525M1836.1 378.8V525M1939.4 378.8V525M2042.7 378.8V525" stroke="#767676" stroke-width="1.35" stroke-dasharray="4.8 2.6" fill="none"/>
<rect x="1725.17" y="474.9" width="358.33" height="39.7" rx="3" fill="#fff" fill-opacity="0.8" stroke="#d2d2d2" stroke-width="1.2"/>
<rect x="1732.67" y="485.7" width="43.4" height="15.7" fill="#ffa500"/>
<text transform="translate(1793.47 500.95) scale(1 1.1)" font-size="21.46">importance score of BSDR</text>
<rect x="1319.6" y="378.8" width="774.8" height="146.2" fill="none" stroke="#2a2a2a" stroke-width="1.8"/>
<path d="M1313.6 391.26H1319.6M1313.6 404.74H1319.6M1313.6 418.21H1319.6M1313.6 431.69H1319.6M1313.6 445.16H1319.6M1313.6 458.64H1319.6M1313.6 472.11H1319.6M1313.6 485.59H1319.6M1313.6 499.06H1319.6M1313.6 512.54H1319.6M1319.6 525V531M1422.9 525V531M1526.2 525V531M1629.5 525V531M1732.8 525V531M1836.1 525V531M1939.4 525V531M2042.7 525V531" stroke="#2a2a2a" stroke-width="1.62" fill="none"/>
<text transform="translate(1319.6 551.2) scale(1 1.05)" font-size="16.2" text-anchor="middle">0</text>
<text transform="translate(1422.9 551.2) scale(1 1.05)" font-size="16.2" text-anchor="middle">10</text>
<text transform="translate(1526.2 551.2) scale(1 1.05)" font-size="16.2" text-anchor="middle">20</text>
<text transform="translate(1629.5 551.2) scale(1 1.05)" font-size="16.2" text-anchor="middle">30</text>
<text transform="translate(1732.8 551.2) scale(1 1.05)" font-size="16.2" text-anchor="middle">40</text>
<text transform="translate(1836.1 551.2) scale(1 1.05)" font-size="16.2" text-anchor="middle">50</text>
<text transform="translate(1939.4 551.2) scale(1 1.05)" font-size="16.2" text-anchor="middle">60</text>
<text transform="translate(2042.7 551.2) scale(1 1.05)" font-size="16.2" text-anchor="middle">70</text>
<text transform="translate(1304.8 398.52) scale(1 0.96)" font-size="15.8" text-anchor="end">diff_ndvi_505_825</text>
<text transform="translate(1304.8 412) scale(1 0.96)" font-size="15.8" text-anchor="end">diff_ndvi_505_910</text>
<text transform="translate(1304.8 425.47) scale(1 0.96)" font-size="15.8" text-anchor="end">mndwi_505</text>
<text transform="translate(1304.8 438.95) scale(1 0.96)" font-size="15.8" text-anchor="end">B3_505</text>
<text transform="translate(1304.8 452.42) scale(1 0.96)" font-size="15.8" text-anchor="end">B7_502</text>
<text transform="translate(1304.8 465.9) scale(1 0.96)" font-size="15.8" text-anchor="end">B2_505</text>
<text transform="translate(1304.8 479.37) scale(1 0.96)" font-size="15.8" text-anchor="end">savi_505</text>
<text transform="translate(1304.8 492.85) scale(1 0.96)" font-size="15.8" text-anchor="end">mndwi_502</text>
<text transform="translate(1304.8 506.32) scale(1 0.96)" font-size="15.8" text-anchor="end">B8_502</text>
<text transform="translate(1304.8 519.8) scale(1 0.96)" font-size="15.8" text-anchor="end">B5_505</text>
<rect x="1319.6" y="560.6" width="717.94" height="10.82" fill="#ffa500"/>
<rect x="1319.6" y="574.13" width="137.18" height="10.82" fill="#ffa500"/>
<rect x="1319.6" y="587.66" width="79.44" height="10.82" fill="#ffa500"/>
<rect x="1319.6" y="601.19" width="22.73" height="10.82" fill="#ffa500"/>
<rect x="1319.6" y="614.72" width="12.19" height="10.82" fill="#ffa500"/>
<rect x="1319.6" y="628.25" width="2.69" height="10.82" fill="#ffa500"/>
<rect x="1319.6" y="641.78" width="2.69" height="10.82" fill="#ffa500"/>
<rect x="1319.6" y="655.31" width="3.2" height="10.82" fill="#ffa500"/>
<rect x="1319.6" y="668.84" width="2" height="10.82" fill="#ffa500"/>
<rect x="1319.6" y="682.37" width="2" height="10.82" fill="#ffa500"/>
<path d="M1319.6 566.22H2094.4M1319.6 579.75H2094.4M1319.6 593.28H2094.4M1319.6 606.81H2094.4M1319.6 620.34H2094.4M1319.6 633.86H2094.4M1319.6 647.39H2094.4M1319.6 660.92H2094.4M1319.6 674.45H2094.4M1319.6 687.98H2094.4" stroke="#8a8a8a" stroke-width="1.35" stroke-dasharray="4.6 2.6" fill="none"/>
<path d="M1319.6 553.7V700.5M1422.9 553.7V700.5M1526.2 553.7V700.5M1629.5 553.7V700.5M1732.8 553.7V700.5M1836.1 553.7V700.5M1939.4 553.7V700.5M2042.7 553.7V700.5" stroke="#767676" stroke-width="1.35" stroke-dasharray="4.8 2.6" fill="none"/>
<rect x="1725.48" y="650.4" width="358.02" height="39.7" rx="3" fill="#fff" fill-opacity="0.8" stroke="#d2d2d2" stroke-width="1.2"/>
<rect x="1732.98" y="661.2" width="43.4" height="15.7" fill="#ffa500"/>
<text transform="translate(1793.78 676.45) scale(1 1.1)" font-size="21.46">importance score of BPDR</text>
<rect x="1319.6" y="553.7" width="774.8" height="146.8" fill="none" stroke="#2a2a2a" stroke-width="1.8"/>
<path d="M1313.6 566.22H1319.6M1313.6 579.75H1319.6M1313.6 593.28H1319.6M1313.6 606.81H1319.6M1313.6 620.34H1319.6M1313.6 633.86H1319.6M1313.6 647.39H1319.6M1313.6 660.92H1319.6M1313.6 674.45H1319.6M1313.6 687.98H1319.6M1319.6 700.5V706.5M1422.9 700.5V706.5M1526.2 700.5V706.5M1629.5 700.5V706.5M1732.8 700.5V706.5M1836.1 700.5V706.5M1939.4 700.5V706.5M2042.7 700.5V706.5" stroke="#2a2a2a" stroke-width="1.62" fill="none"/>
<text transform="translate(1319.6 726.7) scale(1 1.05)" font-size="16.2" text-anchor="middle">0</text>
<text transform="translate(1422.9 726.7) scale(1 1.05)" font-size="16.2" text-anchor="middle">10</text>
<text transform="translate(1526.2 726.7) scale(1 1.05)" font-size="16.2" text-anchor="middle">20</text>
<text transform="translate(1629.5 726.7) scale(1 1.05)" font-size="16.2" text-anchor="middle">30</text>
<text transform="translate(1732.8 726.7) scale(1 1.05)" font-size="16.2" text-anchor="middle">40</text>
<text transform="translate(1836.1 726.7) scale(1 1.05)" font-size="16.2" text-anchor="middle">50</text>
<text transform="translate(1939.4 726.7) scale(1 1.05)" font-size="16.2" text-anchor="middle">60</text>
<text transform="translate(2042.7 726.7) scale(1 1.05)" font-size="16.2" text-anchor="middle">70</text>
<text transform="translate(1304.8 573.48) scale(1 0.96)" font-size="15.8" text-anchor="end">diff_ndvi_505_825</text>
<text transform="translate(1304.8 587.01) scale(1 0.96)" font-size="15.8" text-anchor="end">diff_ndvi_505_910</text>
<text transform="translate(1304.8 600.54) scale(1 0.96)" font-size="15.8" text-anchor="end">pca1_505</text>
<text transform="translate(1304.8 614.07) scale(1 0.96)" font-size="15.8" text-anchor="end">pca1_502</text>
<text transform="translate(1304.8 627.6) scale(1 0.96)" font-size="15.8" text-anchor="end">B3_505</text>
<text transform="translate(1304.8 641.13) scale(1 0.96)" font-size="15.8" text-anchor="end">B3_502</text>
<text transform="translate(1304.8 654.66) scale(1 0.96)" font-size="15.8" text-anchor="end">B7_502</text>
<text transform="translate(1304.8 668.19) scale(1 0.96)" font-size="15.8" text-anchor="end">B2_825</text>
<text transform="translate(1304.8 681.72) scale(1 0.96)" font-size="15.8" text-anchor="end">mre_ndvi_502</text>
<text transform="translate(1304.8 695.25) scale(1 0.96)" font-size="15.8" text-anchor="end">B4_505</text>
<rect x="1319.6" y="735.22" width="709.36" height="10.69" fill="#ffa500"/>
<rect x="1319.6" y="748.58" width="150.4" height="10.69" fill="#ffa500"/>
<rect x="1319.6" y="761.94" width="53.41" height="10.69" fill="#ffa500"/>
<rect x="1319.6" y="775.31" width="48.14" height="10.69" fill="#ffa500"/>
<rect x="1319.6" y="788.67" width="9.81" height="10.69" fill="#ffa500"/>
<rect x="1319.6" y="802.04" width="8.37" height="10.69" fill="#ffa500"/>
<rect x="1319.6" y="815.4" width="4.55" height="10.69" fill="#ffa500"/>
<rect x="1319.6" y="828.76" width="4.55" height="10.69" fill="#ffa500"/>
<rect x="1319.6" y="842.13" width="3" height="10.69" fill="#ffa500"/>
<rect x="1319.6" y="855.49" width="2" height="10.69" fill="#ffa500"/>
<path d="M1319.6 740.76H2094.4M1319.6 754.13H2094.4M1319.6 767.49H2094.4M1319.6 780.85H2094.4M1319.6 794.22H2094.4M1319.6 807.58H2094.4M1319.6 820.95H2094.4M1319.6 834.31H2094.4M1319.6 847.67H2094.4M1319.6 861.04H2094.4" stroke="#8a8a8a" stroke-width="1.35" stroke-dasharray="4.6 2.6" fill="none"/>
<path d="M1319.6 728.4V873.4M1422.9 728.4V873.4M1526.2 728.4V873.4M1629.5 728.4V873.4M1732.8 728.4V873.4M1836.1 728.4V873.4M1939.4 728.4V873.4M2042.7 728.4V873.4" stroke="#767676" stroke-width="1.35" stroke-dasharray="4.8 2.6" fill="none"/>
<rect x="1726.58" y="823.3" width="356.92" height="39.7" rx="3" fill="#fff" fill-opacity="0.8" stroke="#d2d2d2" stroke-width="1.2"/>
<rect x="1734.08" y="834.1" width="43.4" height="15.7" fill="#ffa500"/>
<text transform="translate(1794.88 849.35) scale(1 1.1)" font-size="21.46">importance score of SPDR</text>
<rect x="1319.6" y="728.4" width="774.8" height="145" fill="none" stroke="#2a2a2a" stroke-width="1.8"/>
<path d="M1313.6 740.76H1319.6M1313.6 754.13H1319.6M1313.6 767.49H1319.6M1313.6 780.85H1319.6M1313.6 794.22H1319.6M1313.6 807.58H1319.6M1313.6 820.95H1319.6M1313.6 834.31H1319.6M1313.6 847.67H1319.6M1313.6 861.04H1319.6M1319.6 873.4V879.4M1422.9 873.4V879.4M1526.2 873.4V879.4M1629.5 873.4V879.4M1732.8 873.4V879.4M1836.1 873.4V879.4M1939.4 873.4V879.4M2042.7 873.4V879.4" stroke="#2a2a2a" stroke-width="1.62" fill="none"/>
<text transform="translate(1319.6 899.6) scale(1 1.05)" font-size="16.2" text-anchor="middle">0</text>
<text transform="translate(1422.9 899.6) scale(1 1.05)" font-size="16.2" text-anchor="middle">10</text>
<text transform="translate(1526.2 899.6) scale(1 1.05)" font-size="16.2" text-anchor="middle">20</text>
<text transform="translate(1629.5 899.6) scale(1 1.05)" font-size="16.2" text-anchor="middle">30</text>
<text transform="translate(1732.8 899.6) scale(1 1.05)" font-size="16.2" text-anchor="middle">40</text>
<text transform="translate(1836.1 899.6) scale(1 1.05)" font-size="16.2" text-anchor="middle">50</text>
<text transform="translate(1939.4 899.6) scale(1 1.05)" font-size="16.2" text-anchor="middle">60</text>
<text transform="translate(2042.7 899.6) scale(1 1.05)" font-size="16.2" text-anchor="middle">70</text>
<text transform="translate(1304.8 748.02) scale(1 0.96)" font-size="15.8" text-anchor="end">diff_ndvi_505_825</text>
<text transform="translate(1304.8 761.39) scale(1 0.96)" font-size="15.8" text-anchor="end">diff_ndvi_505_910</text>
<text transform="translate(1304.8 774.75) scale(1 0.96)" font-size="15.8" text-anchor="end">pca1_505</text>
<text transform="translate(1304.8 788.11) scale(1 0.96)" font-size="15.8" text-anchor="end">mndwi_505</text>
<text transform="translate(1304.8 801.48) scale(1 0.96)" font-size="15.8" text-anchor="end">mre_ndvi_502</text>
<text transform="translate(1304.8 814.84) scale(1 0.96)" font-size="15.8" text-anchor="end">pca1_502</text>
<text transform="translate(1304.8 828.21) scale(1 0.96)" font-size="15.8" text-anchor="end">diff_ndvi_505_909</text>
<text transform="translate(1304.8 841.57) scale(1 0.96)" font-size="15.8" text-anchor="end">B5_502</text>
<text transform="translate(1304.8 854.93) scale(1 0.96)" font-size="15.8" text-anchor="end">mre_sr_502</text>
<text transform="translate(1304.8 868.3) scale(1 0.96)" font-size="15.8" text-anchor="end">pca3_606</text>
<rect x="209.7" y="1080.44" width="669.58" height="12.34" fill="#ff0000"/>
<rect x="209.7" y="1095.86" width="174.93" height="12.34" fill="#ff0000"/>
<rect x="209.7" y="1111.28" width="60" height="12.34" fill="#ff0000"/>
<rect x="209.7" y="1126.7" width="47.77" height="12.34" fill="#ff0000"/>
<rect x="209.7" y="1142.12" width="32.83" height="12.34" fill="#ff0000"/>
<rect x="209.7" y="1157.54" width="26.38" height="12.34" fill="#ff0000"/>
<rect x="209.7" y="1172.96" width="18.11" height="12.34" fill="#ff0000"/>
<rect x="209.7" y="1188.38" width="13.13" height="12.34" fill="#ff0000"/>
<rect x="209.7" y="1203.8" width="10.19" height="12.34" fill="#ff0000"/>
<rect x="209.7" y="1219.22" width="8.72" height="12.34" fill="#ff0000"/>
<path d="M209.7 1087.61H1059.5M209.7 1103.03H1059.5M209.7 1118.45H1059.5M209.7 1133.87H1059.5M209.7 1149.29H1059.5M209.7 1164.71H1059.5M209.7 1180.13H1059.5M209.7 1195.55H1059.5M209.7 1210.97H1059.5M209.7 1226.39H1059.5" stroke="#8a8a8a" stroke-width="1.35" stroke-dasharray="4.6 2.6" fill="none"/>
<path d="M209.7 1074.5V1239.5M322.9 1074.5V1239.5M436.1 1074.5V1239.5M549.3 1074.5V1239.5M662.5 1074.5V1239.5M775.7 1074.5V1239.5M888.9 1074.5V1239.5M1002.1 1074.5V1239.5" stroke="#767676" stroke-width="1.35" stroke-dasharray="4.8 2.6" fill="none"/>
<rect x="707.38" y="1181.5" width="339.62" height="45.3" rx="3" fill="#fff" fill-opacity="0.8" stroke="#d2d2d2" stroke-width="1.2"/>
<rect x="714.28" y="1194.45" width="46.5" height="17" fill="#ff0000"/>
<text transform="translate(778.28 1212.89) scale(1 1.19)" font-size="22.28">importance score of BS</text>
<rect x="209.7" y="1074.5" width="849.8" height="165" fill="none" stroke="#2a2a2a" stroke-width="2"/>
<path d="M203.2 1087.61H209.7M203.2 1103.03H209.7M203.2 1118.45H209.7M203.2 1133.87H209.7M203.2 1149.29H209.7M203.2 1164.71H209.7M203.2 1180.13H209.7M203.2 1195.55H209.7M203.2 1210.97H209.7M203.2 1226.39H209.7M209.7 1239.5V1246M322.9 1239.5V1246M436.1 1239.5V1246M549.3 1239.5V1246M662.5 1239.5V1246M775.7 1239.5V1246M888.9 1239.5V1246M1002.1 1239.5V1246" stroke="#2a2a2a" stroke-width="1.8" fill="none"/>
<text transform="translate(209.7 1269.8) scale(1 1.04)" font-size="17.3" text-anchor="middle">0</text>
<text transform="translate(322.9 1269.8) scale(1 1.04)" font-size="17.3" text-anchor="middle">10</text>
<text transform="translate(436.1 1269.8) scale(1 1.04)" font-size="17.3" text-anchor="middle">20</text>
<text transform="translate(549.3 1269.8) scale(1 1.04)" font-size="17.3" text-anchor="middle">30</text>
<text transform="translate(662.5 1269.8) scale(1 1.04)" font-size="17.3" text-anchor="middle">40</text>
<text transform="translate(775.7 1269.8) scale(1 1.04)" font-size="17.3" text-anchor="middle">50</text>
<text transform="translate(888.9 1269.8) scale(1 1.04)" font-size="17.3" text-anchor="middle">60</text>
<text transform="translate(1002.1 1269.8) scale(1 1.04)" font-size="17.3" text-anchor="middle">70</text>
<text transform="translate(193.3 1097.5) scale(1 1.08)" font-size="16.7" text-anchor="end">ndvi_505</text>
<text transform="translate(193.3 1112.92) scale(1 1.08)" font-size="16.7" text-anchor="end">ndsi_505</text>
<text transform="translate(193.3 1128.34) scale(1 1.08)" font-size="16.7" text-anchor="end">ndbi_909</text>
<text transform="translate(193.3 1143.76) scale(1 1.08)" font-size="16.7" text-anchor="end">ndbi_825</text>
<text transform="translate(193.3 1159.18) scale(1 1.08)" font-size="16.7" text-anchor="end">ndbi_910</text>
<text transform="translate(193.3 1174.6) scale(1 1.08)" font-size="16.7" text-anchor="end">B5_505</text>
<text transform="translate(193.3 1190.02) scale(1 1.08)" font-size="16.7" text-anchor="end">mndwi_505</text>
<text transform="translate(193.3 1205.44) scale(1 1.08)" font-size="16.7" text-anchor="end">B8_502</text>
<text transform="translate(193.3 1220.86) scale(1 1.08)" font-size="16.7" text-anchor="end">ndvi_825</text>
<text transform="translate(193.3 1236.29) scale(1 1.08)" font-size="16.7" text-anchor="end">B3_505</text>
<rect x="209.7" y="1279.14" width="804.85" height="12.34" fill="#ff0000"/>
<rect x="209.7" y="1294.56" width="134.63" height="12.34" fill="#ff0000"/>
<rect x="209.7" y="1309.98" width="42.11" height="12.34" fill="#ff0000"/>
<rect x="209.7" y="1325.4" width="27.62" height="12.34" fill="#ff0000"/>
<rect x="209.7" y="1340.82" width="26.38" height="12.34" fill="#ff0000"/>
<rect x="209.7" y="1356.24" width="8.49" height="12.34" fill="#ff0000"/>
<rect x="209.7" y="1371.66" width="7.02" height="12.34" fill="#ff0000"/>
<rect x="209.7" y="1387.08" width="5.89" height="12.34" fill="#ff0000"/>
<rect x="209.7" y="1402.5" width="2.94" height="12.34" fill="#ff0000"/>
<rect x="209.7" y="1417.92" width="2.94" height="12.34" fill="#ff0000"/>
<path d="M209.7 1286.31H1059.5M209.7 1301.73H1059.5M209.7 1317.15H1059.5M209.7 1332.57H1059.5M209.7 1347.99H1059.5M209.7 1363.41H1059.5M209.7 1378.83H1059.5M209.7 1394.25H1059.5M209.7 1409.67H1059.5M209.7 1425.09H1059.5" stroke="#8a8a8a" stroke-width="1.35" stroke-dasharray="4.6 2.6" fill="none"/>
<path d="M209.7 1273.2V1438.2M322.9 1273.2V1438.2M436.1 1273.2V1438.2M549.3 1273.2V1438.2M662.5 1273.2V1438.2M775.7 1273.2V1438.2M888.9 1273.2V1438.2M1002.1 1273.2V1438.2" stroke="#767676" stroke-width="1.35" stroke-dasharray="4.8 2.6" fill="none"/>
<rect x="703.98" y="1380.2" width="343.02" height="45.3" rx="3" fill="#fff" fill-opacity="0.8" stroke="#d2d2d2" stroke-width="1.2"/>
<rect x="710.88" y="1393.15" width="46.5" height="17" fill="#ff0000"/>
<text transform="translate(774.88 1411.59) scale(1 1.19)" font-size="22.28">importance score of BD</text>
<rect x="209.7" y="1273.2" width="849.8" height="165" fill="none" stroke="#2a2a2a" stroke-width="2"/>
<path d="M203.2 1286.31H209.7M203.2 1301.73H209.7M203.2 1317.15H209.7M203.2 1332.57H209.7M203.2 1347.99H209.7M203.2 1363.41H209.7M203.2 1378.83H209.7M203.2 1394.25H209.7M203.2 1409.67H209.7M203.2 1425.09H209.7M209.7 1438.2V1444.7M322.9 1438.2V1444.7M436.1 1438.2V1444.7M549.3 1438.2V1444.7M662.5 1438.2V1444.7M775.7 1438.2V1444.7M888.9 1438.2V1444.7M1002.1 1438.2V1444.7" stroke="#2a2a2a" stroke-width="1.8" fill="none"/>
<text transform="translate(209.7 1468.5) scale(1 1.04)" font-size="17.3" text-anchor="middle">0</text>
<text transform="translate(322.9 1468.5) scale(1 1.04)" font-size="17.3" text-anchor="middle">10</text>
<text transform="translate(436.1 1468.5) scale(1 1.04)" font-size="17.3" text-anchor="middle">20</text>
<text transform="translate(549.3 1468.5) scale(1 1.04)" font-size="17.3" text-anchor="middle">30</text>
<text transform="translate(662.5 1468.5) scale(1 1.04)" font-size="17.3" text-anchor="middle">40</text>
<text transform="translate(775.7 1468.5) scale(1 1.04)" font-size="17.3" text-anchor="middle">50</text>
<text transform="translate(888.9 1468.5) scale(1 1.04)" font-size="17.3" text-anchor="middle">60</text>
<text transform="translate(1002.1 1468.5) scale(1 1.04)" font-size="17.3" text-anchor="middle">70</text>
<text transform="translate(193.3 1296.2) scale(1 1.08)" font-size="16.7" text-anchor="end">diff_ndvi_505_825</text>
<text transform="translate(193.3 1311.62) scale(1 1.08)" font-size="16.7" text-anchor="end">diff_ndvi_505_910</text>
<text transform="translate(193.3 1327.04) scale(1 1.08)" font-size="16.7" text-anchor="end">B8_502</text>
<text transform="translate(193.3 1342.46) scale(1 1.08)" font-size="16.7" text-anchor="end">B3_505</text>
<text transform="translate(193.3 1357.88) scale(1 1.08)" font-size="16.7" text-anchor="end">B5_505</text>
<text transform="translate(193.3 1373.3) scale(1 1.08)" font-size="16.7" text-anchor="end">B3_606</text>
<text transform="translate(193.3 1388.72) scale(1 1.08)" font-size="16.7" text-anchor="end">B2_505</text>
<text transform="translate(193.3 1404.14) scale(1 1.08)" font-size="16.7" text-anchor="end">B6_910</text>
<text transform="translate(193.3 1419.56) scale(1 1.08)" font-size="16.7" text-anchor="end">B12_502</text>
<text transform="translate(193.3 1434.99) scale(1 1.08)" font-size="16.7" text-anchor="end">B4_910</text>
<rect x="209.7" y="1476.9" width="682.6" height="12.39" fill="#008000"/>
<rect x="209.7" y="1492.39" width="159.39" height="12.39" fill="#008000"/>
<rect x="209.7" y="1507.88" width="66.79" height="12.39" fill="#008000"/>
<rect x="209.7" y="1523.37" width="43.92" height="12.39" fill="#008000"/>
<rect x="209.7" y="1538.86" width="39.96" height="12.39" fill="#008000"/>
<rect x="209.7" y="1554.35" width="22.3" height="12.39" fill="#008000"/>
<rect x="209.7" y="1569.84" width="20.94" height="12.39" fill="#008000"/>
<rect x="209.7" y="1585.33" width="19.24" height="12.39" fill="#008000"/>
<rect x="209.7" y="1600.82" width="16.75" height="12.39" fill="#008000"/>
<rect x="209.7" y="1616.3" width="7.02" height="12.39" fill="#008000"/>
<path d="M209.7 1484.1H1059.5M209.7 1499.59H1059.5M209.7 1515.08H1059.5M209.7 1530.57H1059.5M209.7 1546.06H1059.5M209.7 1561.54H1059.5M209.7 1577.03H1059.5M209.7 1592.52H1059.5M209.7 1608.01H1059.5M209.7 1623.5H1059.5" stroke="#8a8a8a" stroke-width="1.35" stroke-dasharray="4.6 2.6" fill="none"/>
<path d="M209.7 1471.8V1636.8M322.9 1471.8V1636.8M436.1 1471.8V1636.8M549.3 1471.8V1636.8M662.5 1471.8V1636.8M775.7 1471.8V1636.8M888.9 1471.8V1636.8M1002.1 1471.8V1636.8" stroke="#767676" stroke-width="1.35" stroke-dasharray="4.8 2.6" fill="none"/>
<rect x="708.84" y="1578.8" width="338.16" height="45.3" rx="3" fill="#fff" fill-opacity="0.8" stroke="#d2d2d2" stroke-width="1.2"/>
<rect x="715.74" y="1591.75" width="46.5" height="17" fill="#008000"/>
<text transform="translate(779.74 1610.19) scale(1 1.19)" font-size="22.28">importance score of SP</text>
<rect x="209.7" y="1471.8" width="849.8" height="165" fill="none" stroke="#2a2a2a" stroke-width="2"/>
<path d="M203.2 1484.1H209.7M203.2 1499.59H209.7M203.2 1515.08H209.7M203.2 1530.57H209.7M203.2 1546.06H209.7M203.2 1561.54H209.7M203.2 1577.03H209.7M203.2 1592.52H209.7M203.2 1608.01H209.7M203.2 1623.5H209.7M209.7 1636.8V1643.3M322.9 1636.8V1643.3M436.1 1636.8V1643.3M549.3 1636.8V1643.3M662.5 1636.8V1643.3M775.7 1636.8V1643.3M888.9 1636.8V1643.3M1002.1 1636.8V1643.3" stroke="#2a2a2a" stroke-width="1.8" fill="none"/>
<text transform="translate(209.7 1667.1) scale(1 1.04)" font-size="17.3" text-anchor="middle">0</text>
<text transform="translate(322.9 1667.1) scale(1 1.04)" font-size="17.3" text-anchor="middle">10</text>
<text transform="translate(436.1 1667.1) scale(1 1.04)" font-size="17.3" text-anchor="middle">20</text>
<text transform="translate(549.3 1667.1) scale(1 1.04)" font-size="17.3" text-anchor="middle">30</text>
<text transform="translate(662.5 1667.1) scale(1 1.04)" font-size="17.3" text-anchor="middle">40</text>
<text transform="translate(775.7 1667.1) scale(1 1.04)" font-size="17.3" text-anchor="middle">50</text>
<text transform="translate(888.9 1667.1) scale(1 1.04)" font-size="17.3" text-anchor="middle">60</text>
<text transform="translate(1002.1 1667.1) scale(1 1.04)" font-size="17.3" text-anchor="middle">70</text>
<text transform="translate(193.3 1493.99) scale(1 1.08)" font-size="16.7" text-anchor="end">ndvi_505</text>
<text transform="translate(193.3 1509.48) scale(1 1.08)" font-size="16.7" text-anchor="end">ndsi_505</text>
<text transform="translate(193.3 1524.97) scale(1 1.08)" font-size="16.7" text-anchor="end">ndbi_909</text>
<text transform="translate(193.3 1540.46) scale(1 1.08)" font-size="16.7" text-anchor="end">ndbi_825</text>
<text transform="translate(193.3 1555.95) scale(1 1.08)" font-size="16.7" text-anchor="end">ndbi_910</text>
<text transform="translate(193.3 1571.44) scale(1 1.08)" font-size="16.7" text-anchor="end">pca2_502</text>
<text transform="translate(193.3 1586.93) scale(1 1.08)" font-size="16.7" text-anchor="end">pca1_505</text>
<text transform="translate(193.3 1602.42) scale(1 1.08)" font-size="16.7" text-anchor="end">pca2_505</text>
<text transform="translate(193.3 1617.9) scale(1 1.08)" font-size="16.7" text-anchor="end">mndwi_505</text>
<text transform="translate(193.3 1633.39) scale(1 1.08)" font-size="16.7" text-anchor="end">ndvi_825</text>
<rect x="209.7" y="1675.71" width="660.97" height="12.37" fill="#008000"/>
<rect x="209.7" y="1691.18" width="175.49" height="12.37" fill="#008000"/>
<rect x="209.7" y="1706.65" width="62.49" height="12.37" fill="#008000"/>
<rect x="209.7" y="1722.11" width="42.11" height="12.37" fill="#008000"/>
<rect x="209.7" y="1737.58" width="36.9" height="12.37" fill="#008000"/>
<rect x="209.7" y="1753.05" width="34.19" height="12.37" fill="#008000"/>
<rect x="209.7" y="1768.51" width="31.7" height="12.37" fill="#008000"/>
<rect x="209.7" y="1783.98" width="22.07" height="12.37" fill="#008000"/>
<rect x="209.7" y="1799.45" width="9.74" height="12.37" fill="#008000"/>
<rect x="209.7" y="1814.91" width="5.89" height="12.37" fill="#008000"/>
<path d="M209.7 1682.9H1059.5M209.7 1698.37H1059.5M209.7 1713.83H1059.5M209.7 1729.3H1059.5M209.7 1744.77H1059.5M209.7 1760.23H1059.5M209.7 1775.7H1059.5M209.7 1791.17H1059.5M209.7 1806.63H1059.5M209.7 1822.1H1059.5" stroke="#8a8a8a" stroke-width="1.35" stroke-dasharray="4.6 2.6" fill="none"/>
<path d="M209.7 1670.8V1835.8M322.9 1670.8V1835.8M436.1 1670.8V1835.8M549.3 1670.8V1835.8M662.5 1670.8V1835.8M775.7 1670.8V1835.8M888.9 1670.8V1835.8M1002.1 1670.8V1835.8" stroke="#767676" stroke-width="1.35" stroke-dasharray="4.8 2.6" fill="none"/>
<rect x="706.79" y="1777.8" width="340.21" height="45.3" rx="3" fill="#fff" fill-opacity="0.8" stroke="#d2d2d2" stroke-width="1.2"/>
<rect x="713.69" y="1790.75" width="46.5" height="17" fill="#008000"/>
<text transform="translate(777.69 1809.19) scale(1 1.19)" font-size="22.28">importance score of SR</text>
<rect x="209.7" y="1670.8" width="849.8" height="165" fill="none" stroke="#2a2a2a" stroke-width="2"/>
<path d="M203.2 1682.9H209.7M203.2 1698.37H209.7M203.2 1713.83H209.7M203.2 1729.3H209.7M203.2 1744.77H209.7M203.2 1760.23H209.7M203.2 1775.7H209.7M203.2 1791.17H209.7M203.2 1806.63H209.7M203.2 1822.1H209.7M209.7 1835.8V1842.3M322.9 1835.8V1842.3M436.1 1835.8V1842.3M549.3 1835.8V1842.3M662.5 1835.8V1842.3M775.7 1835.8V1842.3M888.9 1835.8V1842.3M1002.1 1835.8V1842.3" stroke="#2a2a2a" stroke-width="1.8" fill="none"/>
<text transform="translate(209.7 1866.1) scale(1 1.04)" font-size="17.3" text-anchor="middle">0</text>
<text transform="translate(322.9 1866.1) scale(1 1.04)" font-size="17.3" text-anchor="middle">10</text>
<text transform="translate(436.1 1866.1) scale(1 1.04)" font-size="17.3" text-anchor="middle">20</text>
<text transform="translate(549.3 1866.1) scale(1 1.04)" font-size="17.3" text-anchor="middle">30</text>
<text transform="translate(662.5 1866.1) scale(1 1.04)" font-size="17.3" text-anchor="middle">40</text>
<text transform="translate(775.7 1866.1) scale(1 1.04)" font-size="17.3" text-anchor="middle">50</text>
<text transform="translate(888.9 1866.1) scale(1 1.04)" font-size="17.3" text-anchor="middle">60</text>
<text transform="translate(1002.1 1866.1) scale(1 1.04)" font-size="17.3" text-anchor="middle">70</text>
<text transform="translate(193.3 1692.79) scale(1 1.08)" font-size="16.7" text-anchor="end">ndvi_505</text>
<text transform="translate(193.3 1708.26) scale(1 1.08)" font-size="16.7" text-anchor="end">ndsi_505</text>
<text transform="translate(193.3 1723.73) scale(1 1.08)" font-size="16.7" text-anchor="end">ndbi_909</text>
<text transform="translate(193.3 1739.19) scale(1 1.08)" font-size="16.7" text-anchor="end">ndbi_910</text>
<text transform="translate(193.3 1754.66) scale(1 1.08)" font-size="16.7" text-anchor="end">ndbi_825</text>
<text transform="translate(193.3 1770.13) scale(1 1.08)" font-size="16.7" text-anchor="end">B7_502</text>
<text transform="translate(193.3 1785.59) scale(1 1.08)" font-size="16.7" text-anchor="end">B6_502</text>
<text transform="translate(193.3 1801.06) scale(1 1.08)" font-size="16.7" text-anchor="end">mndwi_505</text>
<text transform="translate(193.3 1816.53) scale(1 1.08)" font-size="16.7" text-anchor="end">ndvi_825</text>
<text transform="translate(193.3 1831.99) scale(1 1.08)" font-size="16.7" text-anchor="end">re_ndvi_502</text>
<rect x="209.7" y="1875.08" width="796.48" height="12.23" fill="#0000ff"/>
<rect x="209.7" y="1890.37" width="200.82" height="12.23" fill="#0000ff"/>
<rect x="209.7" y="1905.66" width="24.9" height="12.23" fill="#0000ff"/>
<rect x="209.7" y="1920.95" width="9.96" height="12.23" fill="#0000ff"/>
<rect x="209.7" y="1936.24" width="8.72" height="12.23" fill="#0000ff"/>
<rect x="209.7" y="1951.53" width="7.13" height="12.23" fill="#0000ff"/>
<rect x="209.7" y="1966.82" width="7.13" height="12.23" fill="#0000ff"/>
<rect x="209.7" y="1982.11" width="5.89" height="12.23" fill="#0000ff"/>
<rect x="209.7" y="1997.4" width="5.89" height="12.23" fill="#0000ff"/>
<rect x="209.7" y="2012.68" width="4.53" height="12.23" fill="#0000ff"/>
<path d="M209.7 1882.2H1059.5M209.7 1897.49H1059.5M209.7 1912.78H1059.5M209.7 1928.07H1059.5M209.7 1943.36H1059.5M209.7 1958.64H1059.5M209.7 1973.93H1059.5M209.7 1989.22H1059.5M209.7 2004.51H1059.5M209.7 2019.8H1059.5" stroke="#8a8a8a" stroke-width="1.35" stroke-dasharray="4.6 2.6" fill="none"/>
<path d="M209.7 1870V2035M322.9 1870V2035M436.1 1870V2035M549.3 1870V2035M662.5 1870V2035M775.7 1870V2035M888.9 1870V2035M1002.1 1870V2035" stroke="#767676" stroke-width="1.35" stroke-dasharray="4.8 2.6" fill="none"/>
<rect x="707.5" y="1977" width="339.5" height="45.3" rx="3" fill="#fff" fill-opacity="0.8" stroke="#d2d2d2" stroke-width="1.2"/>
<rect x="714.4" y="1989.95" width="46.5" height="17" fill="#0000ff"/>
<text transform="translate(778.4 2008.39) scale(1 1.19)" font-size="22.28">importance score of PR</text>
<rect x="209.7" y="1870" width="849.8" height="165" fill="none" stroke="#2a2a2a" stroke-width="2"/>
<path d="M203.2 1882.2H209.7M203.2 1897.49H209.7M203.2 1912.78H209.7M203.2 1928.07H209.7M203.2 1943.36H209.7M203.2 1958.64H209.7M203.2 1973.93H209.7M203.2 1989.22H209.7M203.2 2004.51H209.7M203.2 2019.8H209.7M209.7 2035V2041.5M322.9 2035V2041.5M436.1 2035V2041.5M549.3 2035V2041.5M662.5 2035V2041.5M775.7 2035V2041.5M888.9 2035V2041.5M1002.1 2035V2041.5" stroke="#2a2a2a" stroke-width="1.8" fill="none"/>
<text transform="translate(209.7 2065.3) scale(1 1.04)" font-size="17.3" text-anchor="middle">0</text>
<text transform="translate(322.9 2065.3) scale(1 1.04)" font-size="17.3" text-anchor="middle">10</text>
<text transform="translate(436.1 2065.3) scale(1 1.04)" font-size="17.3" text-anchor="middle">20</text>
<text transform="translate(549.3 2065.3) scale(1 1.04)" font-size="17.3" text-anchor="middle">30</text>
<text transform="translate(662.5 2065.3) scale(1 1.04)" font-size="17.3" text-anchor="middle">40</text>
<text transform="translate(775.7 2065.3) scale(1 1.04)" font-size="17.3" text-anchor="middle">50</text>
<text transform="translate(888.9 2065.3) scale(1 1.04)" font-size="17.3" text-anchor="middle">60</text>
<text transform="translate(1002.1 2065.3) scale(1 1.04)" font-size="17.3" text-anchor="middle">70</text>
<text transform="translate(193.3 1892.09) scale(1 1.08)" font-size="16.7" text-anchor="end">re_ndvi_502</text>
<text transform="translate(193.3 1907.38) scale(1 1.08)" font-size="16.7" text-anchor="end">B7_502</text>
<text transform="translate(193.3 1922.67) scale(1 1.08)" font-size="16.7" text-anchor="end">B6_502</text>
<text transform="translate(193.3 1937.96) scale(1 1.08)" font-size="16.7" text-anchor="end">pca1_910</text>
<text transform="translate(193.3 1953.25) scale(1 1.08)" font-size="16.7" text-anchor="end">pca1_825</text>
<text transform="translate(193.3 1968.54) scale(1 1.08)" font-size="16.7" text-anchor="end">pca2_505</text>
<text transform="translate(193.3 1983.83) scale(1 1.08)" font-size="16.7" text-anchor="end">pca2_825</text>
<text transform="translate(193.3 1999.12) scale(1 1.08)" font-size="16.7" text-anchor="end">pca3_825</text>
<text transform="translate(193.3 2014.4) scale(1 1.08)" font-size="16.7" text-anchor="end">pca2_502</text>
<text transform="translate(193.3 2029.69) scale(1 1.08)" font-size="16.7" text-anchor="end">pca1_502</text>
<rect x="1229.4" y="1080.44" width="629.62" height="12.34" fill="#ff0000"/>
<rect x="1229.4" y="1095.86" width="237.85" height="12.34" fill="#ff0000"/>
<rect x="1229.4" y="1111.28" width="54.34" height="12.34" fill="#ff0000"/>
<rect x="1229.4" y="1126.7" width="32.94" height="12.34" fill="#ff0000"/>
<rect x="1229.4" y="1142.12" width="30" height="12.34" fill="#ff0000"/>
<rect x="1229.4" y="1157.54" width="18" height="12.34" fill="#ff0000"/>
<rect x="1229.4" y="1172.96" width="16.64" height="12.34" fill="#ff0000"/>
<rect x="1229.4" y="1188.38" width="13.7" height="12.34" fill="#ff0000"/>
<rect x="1229.4" y="1203.8" width="9.96" height="12.34" fill="#ff0000"/>
<rect x="1229.4" y="1219.22" width="5.43" height="12.34" fill="#ff0000"/>
<path d="M1229.4 1087.61H2079M1229.4 1103.03H2079M1229.4 1118.45H2079M1229.4 1133.87H2079M1229.4 1149.29H2079M1229.4 1164.71H2079M1229.4 1180.13H2079M1229.4 1195.55H2079M1229.4 1210.97H2079M1229.4 1226.39H2079" stroke="#8a8a8a" stroke-width="1.35" stroke-dasharray="4.6 2.6" fill="none"/>
<path d="M1229.4 1074.5V1239.5M1342.6 1074.5V1239.5M1455.8 1074.5V1239.5M1569 1074.5V1239.5M1682.2 1074.5V1239.5M1795.4 1074.5V1239.5M1908.6 1074.5V1239.5M2021.8 1074.5V1239.5" stroke="#767676" stroke-width="1.35" stroke-dasharray="4.8 2.6" fill="none"/>
<rect x="1727.2" y="1181.5" width="339.3" height="45.3" rx="3" fill="#fff" fill-opacity="0.8" stroke="#d2d2d2" stroke-width="1.2"/>
<rect x="1734.1" y="1194.45" width="46.5" height="17" fill="#ff0000"/>
<text transform="translate(1798.1 1212.89) scale(1 1.19)" font-size="22.28">importance score of BP</text>
<rect x="1229.4" y="1074.5" width="849.6" height="165" fill="none" stroke="#2a2a2a" stroke-width="2"/>
<path d="M1222.9 1087.61H1229.4M1222.9 1103.03H1229.4M1222.9 1118.45H1229.4M1222.9 1133.87H1229.4M1222.9 1149.29H1229.4M1222.9 1164.71H1229.4M1222.9 1180.13H1229.4M1222.9 1195.55H1229.4M1222.9 1210.97H1229.4M1222.9 1226.39H1229.4M1229.4 1239.5V1246M1342.6 1239.5V1246M1455.8 1239.5V1246M1569 1239.5V1246M1682.2 1239.5V1246M1795.4 1239.5V1246M1908.6 1239.5V1246M2021.8 1239.5V1246" stroke="#2a2a2a" stroke-width="1.8" fill="none"/>
<text transform="translate(1229.4 1269.8) scale(1 1.04)" font-size="17.3" text-anchor="middle">0</text>
<text transform="translate(1342.6 1269.8) scale(1 1.04)" font-size="17.3" text-anchor="middle">10</text>
<text transform="translate(1455.8 1269.8) scale(1 1.04)" font-size="17.3" text-anchor="middle">20</text>
<text transform="translate(1569 1269.8) scale(1 1.04)" font-size="17.3" text-anchor="middle">30</text>
<text transform="translate(1682.2 1269.8) scale(1 1.04)" font-size="17.3" text-anchor="middle">40</text>
<text transform="translate(1795.4 1269.8) scale(1 1.04)" font-size="17.3" text-anchor="middle">50</text>
<text transform="translate(1908.6 1269.8) scale(1 1.04)" font-size="17.3" text-anchor="middle">60</text>
<text transform="translate(2021.8 1269.8) scale(1 1.04)" font-size="17.3" text-anchor="middle">70</text>
<text transform="translate(1213 1097.5) scale(1 1.08)" font-size="16.7" text-anchor="end">pca1_502</text>
<text transform="translate(1213 1112.92) scale(1 1.08)" font-size="16.7" text-anchor="end">B3_505</text>
<text transform="translate(1213 1128.34) scale(1 1.08)" font-size="16.7" text-anchor="end">pca2_502</text>
<text transform="translate(1213 1143.76) scale(1 1.08)" font-size="16.7" text-anchor="end">B3_502</text>
<text transform="translate(1213 1159.18) scale(1 1.08)" font-size="16.7" text-anchor="end">pca1_825</text>
<text transform="translate(1213 1174.6) scale(1 1.08)" font-size="16.7" text-anchor="end">B8_502</text>
<text transform="translate(1213 1190.02) scale(1 1.08)" font-size="16.7" text-anchor="end">pca2_505</text>
<text transform="translate(1213 1205.44) scale(1 1.08)" font-size="16.7" text-anchor="end">pca1_505</text>
<text transform="translate(1213 1220.86) scale(1 1.08)" font-size="16.7" text-anchor="end">B4_825</text>
<text transform="translate(1213 1236.29) scale(1 1.08)" font-size="16.7" text-anchor="end">B2_910</text>
<rect x="1229.4" y="1279.14" width="798.85" height="12.34" fill="#ff0000"/>
<rect x="1229.4" y="1294.56" width="117.18" height="12.34" fill="#ff0000"/>
<rect x="1229.4" y="1309.98" width="53.2" height="12.34" fill="#ff0000"/>
<rect x="1229.4" y="1325.4" width="43.36" height="12.34" fill="#ff0000"/>
<rect x="1229.4" y="1340.82" width="27.17" height="12.34" fill="#ff0000"/>
<rect x="1229.4" y="1356.24" width="23.66" height="12.34" fill="#ff0000"/>
<rect x="1229.4" y="1371.66" width="8.72" height="12.34" fill="#ff0000"/>
<rect x="1229.4" y="1387.08" width="6.91" height="12.34" fill="#ff0000"/>
<rect x="1229.4" y="1402.5" width="6.91" height="12.34" fill="#ff0000"/>
<rect x="1229.4" y="1417.92" width="4.08" height="12.34" fill="#ff0000"/>
<path d="M1229.4 1286.31H2079M1229.4 1301.73H2079M1229.4 1317.15H2079M1229.4 1332.57H2079M1229.4 1347.99H2079M1229.4 1363.41H2079M1229.4 1378.83H2079M1229.4 1394.25H2079M1229.4 1409.67H2079M1229.4 1425.09H2079" stroke="#8a8a8a" stroke-width="1.35" stroke-dasharray="4.6 2.6" fill="none"/>
<path d="M1229.4 1273.2V1438.2M1342.6 1273.2V1438.2M1455.8 1273.2V1438.2M1569 1273.2V1438.2M1682.2 1273.2V1438.2M1795.4 1273.2V1438.2M1908.6 1273.2V1438.2M2021.8 1273.2V1438.2" stroke="#767676" stroke-width="1.35" stroke-dasharray="4.8 2.6" fill="none"/>
<rect x="1725.15" y="1380.2" width="341.35" height="45.3" rx="3" fill="#fff" fill-opacity="0.8" stroke="#d2d2d2" stroke-width="1.2"/>
<rect x="1732.05" y="1393.15" width="46.5" height="17" fill="#ff0000"/>
<text transform="translate(1796.05 1411.59) scale(1 1.19)" font-size="22.28">importance score of BR</text>
<rect x="1229.4" y="1273.2" width="849.6" height="165" fill="none" stroke="#2a2a2a" stroke-width="2"/>
<path d="M1222.9 1286.31H1229.4M1222.9 1301.73H1229.4M1222.9 1317.15H1229.4M1222.9 1332.57H1229.4M1222.9 1347.99H1229.4M1222.9 1363.41H1229.4M1222.9 1378.83H1229.4M1222.9 1394.25H1229.4M1222.9 1409.67H1229.4M1222.9 1425.09H1229.4M1229.4 1438.2V1444.7M1342.6 1438.2V1444.7M1455.8 1438.2V1444.7M1569 1438.2V1444.7M1682.2 1438.2V1444.7M1795.4 1438.2V1444.7M1908.6 1438.2V1444.7M2021.8 1438.2V1444.7" stroke="#2a2a2a" stroke-width="1.8" fill="none"/>
<text transform="translate(1229.4 1468.5) scale(1 1.04)" font-size="17.3" text-anchor="middle">0</text>
<text transform="translate(1342.6 1468.5) scale(1 1.04)" font-size="17.3" text-anchor="middle">10</text>
<text transform="translate(1455.8 1468.5) scale(1 1.04)" font-size="17.3" text-anchor="middle">20</text>
<text transform="translate(1569 1468.5) scale(1 1.04)" font-size="17.3" text-anchor="middle">30</text>
<text transform="translate(1682.2 1468.5) scale(1 1.04)" font-size="17.3" text-anchor="middle">40</text>
<text transform="translate(1795.4 1468.5) scale(1 1.04)" font-size="17.3" text-anchor="middle">50</text>
<text transform="translate(1908.6 1468.5) scale(1 1.04)" font-size="17.3" text-anchor="middle">60</text>
<text transform="translate(2021.8 1468.5) scale(1 1.04)" font-size="17.3" text-anchor="middle">70</text>
<text transform="translate(1213 1296.2) scale(1 1.08)" font-size="16.7" text-anchor="end">re_ndvi_502</text>
<text transform="translate(1213 1311.62) scale(1 1.08)" font-size="16.7" text-anchor="end">B7_502</text>
<text transform="translate(1213 1327.04) scale(1 1.08)" font-size="16.7" text-anchor="end">B8_502</text>
<text transform="translate(1213 1342.46) scale(1 1.08)" font-size="16.7" text-anchor="end">B5_505</text>
<text transform="translate(1213 1357.88) scale(1 1.08)" font-size="16.7" text-anchor="end">B3_606</text>
<text transform="translate(1213 1373.3) scale(1 1.08)" font-size="16.7" text-anchor="end">B6_502</text>
<text transform="translate(1213 1388.72) scale(1 1.08)" font-size="16.7" text-anchor="end">B4_910</text>
<text transform="translate(1213 1404.14) scale(1 1.08)" font-size="16.7" text-anchor="end">B2_825</text>
<text transform="translate(1213 1419.56) scale(1 1.08)" font-size="16.7" text-anchor="end">B4_825</text>
<text transform="translate(1213 1434.99) scale(1 1.08)" font-size="16.7" text-anchor="end">B6_825</text>
<rect x="1229.4" y="1476.9" width="812.1" height="12.39" fill="#008000"/>
<rect x="1229.4" y="1492.39" width="126.41" height="12.39" fill="#008000"/>
<rect x="1229.4" y="1507.88" width="101.08" height="12.39" fill="#008000"/>
<rect x="1229.4" y="1523.37" width="25.47" height="12.39" fill="#008000"/>
<rect x="1229.4" y="1538.86" width="15.06" height="12.39" fill="#008000"/>
<rect x="1229.4" y="1554.35" width="5.77" height="12.39" fill="#008000"/>
<rect x="1229.4" y="1569.84" width="5.77" height="12.39" fill="#008000"/>
<rect x="1229.4" y="1585.33" width="2.94" height="12.39" fill="#008000"/>
<rect x="1229.4" y="1600.82" width="2" height="12.39" fill="#008000"/>
<rect x="1229.4" y="1616.3" width="2" height="12.39" fill="#008000"/>
<path d="M1229.4 1484.1H2079M1229.4 1499.59H2079M1229.4 1515.08H2079M1229.4 1530.57H2079M1229.4 1546.06H2079M1229.4 1561.54H2079M1229.4 1577.03H2079M1229.4 1592.52H2079M1229.4 1608.01H2079M1229.4 1623.5H2079" stroke="#8a8a8a" stroke-width="1.35" stroke-dasharray="4.6 2.6" fill="none"/>
<path d="M1229.4 1471.8V1636.8M1342.6 1471.8V1636.8M1455.8 1471.8V1636.8M1569 1471.8V1636.8M1682.2 1471.8V1636.8M1795.4 1471.8V1636.8M1908.6 1471.8V1636.8M2021.8 1471.8V1636.8" stroke="#767676" stroke-width="1.35" stroke-dasharray="4.8 2.6" fill="none"/>
<rect x="1724.62" y="1578.8" width="341.88" height="45.3" rx="3" fill="#fff" fill-opacity="0.8" stroke="#d2d2d2" stroke-width="1.2"/>
<rect x="1731.52" y="1591.75" width="46.5" height="17" fill="#008000"/>
<text transform="translate(1795.52 1610.19) scale(1 1.19)" font-size="22.28">importance score of SD</text>
<rect x="1229.4" y="1471.8" width="849.6" height="165" fill="none" stroke="#2a2a2a" stroke-width="2"/>
<path d="M1222.9 1484.1H1229.4M1222.9 1499.59H1229.4M1222.9 1515.08H1229.4M1222.9 1530.57H1229.4M1222.9 1546.06H1229.4M1222.9 1561.54H1229.4M1222.9 1577.03H1229.4M1222.9 1592.52H1229.4M1222.9 1608.01H1229.4M1222.9 1623.5H1229.4M1229.4 1636.8V1643.3M1342.6 1636.8V1643.3M1455.8 1636.8V1643.3M1569 1636.8V1643.3M1682.2 1636.8V1643.3M1795.4 1636.8V1643.3M1908.6 1636.8V1643.3M2021.8 1636.8V1643.3" stroke="#2a2a2a" stroke-width="1.8" fill="none"/>
<text transform="translate(1229.4 1667.1) scale(1 1.04)" font-size="17.3" text-anchor="middle">0</text>
<text transform="translate(1342.6 1667.1) scale(1 1.04)" font-size="17.3" text-anchor="middle">10</text>
<text transform="translate(1455.8 1667.1) scale(1 1.04)" font-size="17.3" text-anchor="middle">20</text>
<text transform="translate(1569 1667.1) scale(1 1.04)" font-size="17.3" text-anchor="middle">30</text>
<text transform="translate(1682.2 1667.1) scale(1 1.04)" font-size="17.3" text-anchor="middle">40</text>
<text transform="translate(1795.4 1667.1) scale(1 1.04)" font-size="17.3" text-anchor="middle">50</text>
<text transform="translate(1908.6 1667.1) scale(1 1.04)" font-size="17.3" text-anchor="middle">60</text>
<text transform="translate(2021.8 1667.1) scale(1 1.04)" font-size="17.3" text-anchor="middle">70</text>
<text transform="translate(1213 1493.99) scale(1 1.08)" font-size="16.7" text-anchor="end">diff_ndvi_505_825</text>
<text transform="translate(1213 1509.48) scale(1 1.08)" font-size="16.7" text-anchor="end">diff_ndvi_505_910</text>
<text transform="translate(1213 1524.97) scale(1 1.08)" font-size="16.7" text-anchor="end">mndwi_505</text>
<text transform="translate(1213 1540.46) scale(1 1.08)" font-size="16.7" text-anchor="end">savi_505</text>
<text transform="translate(1213 1555.95) scale(1 1.08)" font-size="16.7" text-anchor="end">diff_ndvi_505_909</text>
<text transform="translate(1213 1571.44) scale(1 1.08)" font-size="16.7" text-anchor="end">mndwi_606</text>
<text transform="translate(1213 1586.93) scale(1 1.08)" font-size="16.7" text-anchor="end">mndwi_502</text>
<text transform="translate(1213 1602.42) scale(1 1.08)" font-size="16.7" text-anchor="end">ndbi_910</text>
<text transform="translate(1213 1617.9) scale(1 1.08)" font-size="16.7" text-anchor="end">ndsi_505</text>
<text transform="translate(1213 1633.39) scale(1 1.08)" font-size="16.7" text-anchor="end">mndwi_910</text>
<rect x="1229.4" y="1675.71" width="825.68" height="12.37" fill="#0000ff"/>
<rect x="1229.4" y="1691.18" width="117.18" height="12.37" fill="#0000ff"/>
<rect x="1229.4" y="1706.65" width="91.4" height="12.37" fill="#0000ff"/>
<rect x="1229.4" y="1722.11" width="26.04" height="12.37" fill="#0000ff"/>
<rect x="1229.4" y="1737.58" width="23.66" height="12.37" fill="#0000ff"/>
<rect x="1229.4" y="1753.05" width="8.72" height="12.37" fill="#0000ff"/>
<rect x="1229.4" y="1768.51" width="4.08" height="12.37" fill="#0000ff"/>
<rect x="1229.4" y="1783.98" width="2.26" height="12.37" fill="#0000ff"/>
<rect x="1229.4" y="1799.45" width="2" height="12.37" fill="#0000ff"/>
<rect x="1229.4" y="1814.91" width="2" height="12.37" fill="#0000ff"/>
<path d="M1229.4 1682.9H2079M1229.4 1698.37H2079M1229.4 1713.83H2079M1229.4 1729.3H2079M1229.4 1744.77H2079M1229.4 1760.23H2079M1229.4 1775.7H2079M1229.4 1791.17H2079M1229.4 1806.63H2079M1229.4 1822.1H2079" stroke="#8a8a8a" stroke-width="1.35" stroke-dasharray="4.6 2.6" fill="none"/>
<path d="M1229.4 1670.8V1835.8M1342.6 1670.8V1835.8M1455.8 1670.8V1835.8M1569 1670.8V1835.8M1682.2 1670.8V1835.8M1795.4 1670.8V1835.8M1908.6 1670.8V1835.8M2021.8 1670.8V1835.8" stroke="#767676" stroke-width="1.35" stroke-dasharray="4.8 2.6" fill="none"/>
<rect x="1725.33" y="1777.8" width="341.17" height="45.3" rx="3" fill="#fff" fill-opacity="0.8" stroke="#d2d2d2" stroke-width="1.2"/>
<rect x="1732.23" y="1790.75" width="46.5" height="17" fill="#0000ff"/>
<text transform="translate(1796.23 1809.19) scale(1 1.19)" font-size="22.28">importance score of PD</text>
<rect x="1229.4" y="1670.8" width="849.6" height="165" fill="none" stroke="#2a2a2a" stroke-width="2"/>
<path d="M1222.9 1682.9H1229.4M1222.9 1698.37H1229.4M1222.9 1713.83H1229.4M1222.9 1729.3H1229.4M1222.9 1744.77H1229.4M1222.9 1760.23H1229.4M1222.9 1775.7H1229.4M1222.9 1791.17H1229.4M1222.9 1806.63H1229.4M1222.9 1822.1H1229.4M1229.4 1835.8V1842.3M1342.6 1835.8V1842.3M1455.8 1835.8V1842.3M1569 1835.8V1842.3M1682.2 1835.8V1842.3M1795.4 1835.8V1842.3M1908.6 1835.8V1842.3M2021.8 1835.8V1842.3" stroke="#2a2a2a" stroke-width="1.8" fill="none"/>
<text transform="translate(1229.4 1866.1) scale(1 1.04)" font-size="17.3" text-anchor="middle">0</text>
<text transform="translate(1342.6 1866.1) scale(1 1.04)" font-size="17.3" text-anchor="middle">10</text>
<text transform="translate(1455.8 1866.1) scale(1 1.04)" font-size="17.3" text-anchor="middle">20</text>
<text transform="translate(1569 1866.1) scale(1 1.04)" font-size="17.3" text-anchor="middle">30</text>
<text transform="translate(1682.2 1866.1) scale(1 1.04)" font-size="17.3" text-anchor="middle">40</text>
<text transform="translate(1795.4 1866.1) scale(1 1.04)" font-size="17.3" text-anchor="middle">50</text>
<text transform="translate(1908.6 1866.1) scale(1 1.04)" font-size="17.3" text-anchor="middle">60</text>
<text transform="translate(2021.8 1866.1) scale(1 1.04)" font-size="17.3" text-anchor="middle">70</text>
<text transform="translate(1213 1692.79) scale(1 1.08)" font-size="16.7" text-anchor="end">diff_ndvi_505_825</text>
<text transform="translate(1213 1708.26) scale(1 1.08)" font-size="16.7" text-anchor="end">diff_ndvi_505_910</text>
<text transform="translate(1213 1723.73) scale(1 1.08)" font-size="16.7" text-anchor="end">pca1_505</text>
<text transform="translate(1213 1739.19) scale(1 1.08)" font-size="16.7" text-anchor="end">pca1_502</text>
<text transform="translate(1213 1754.66) scale(1 1.08)" font-size="16.7" text-anchor="end">diff_ndvi_505_909</text>
<text transform="translate(1213 1770.13) scale(1 1.08)" font-size="16.7" text-anchor="end">pca2_825</text>
<text transform="translate(1213 1785.59) scale(1 1.08)" font-size="16.7" text-anchor="end">pca1_910</text>
<text transform="translate(1213 1801.06) scale(1 1.08)" font-size="16.7" text-anchor="end">diff_ndvi_825_909</text>
<text transform="translate(1213 1816.53) scale(1 1.08)" font-size="16.7" text-anchor="end">pca2_910</text>
<text transform="translate(1213 1831.99) scale(1 1.08)" font-size="16.7" text-anchor="end">diff_ndvi_502_909</text>
<rect x="1229.4" y="1875.08" width="813.79" height="12.23" fill="#00bfbf"/>
<rect x="1229.4" y="1890.37" width="133.28" height="12.23" fill="#00bfbf"/>
<rect x="1229.4" y="1905.66" width="80.26" height="12.23" fill="#00bfbf"/>
<rect x="1229.4" y="1920.95" width="11.55" height="12.23" fill="#00bfbf"/>
<rect x="1229.4" y="1936.24" width="10.41" height="12.23" fill="#00bfbf"/>
<rect x="1229.4" y="1951.53" width="9.85" height="12.23" fill="#00bfbf"/>
<rect x="1229.4" y="1966.82" width="5.77" height="12.23" fill="#00bfbf"/>
<rect x="1229.4" y="1982.11" width="5.21" height="12.23" fill="#00bfbf"/>
<rect x="1229.4" y="1997.4" width="4.08" height="12.23" fill="#00bfbf"/>
<rect x="1229.4" y="2012.68" width="4.08" height="12.23" fill="#00bfbf"/>
<path d="M1229.4 1882.2H2079M1229.4 1897.49H2079M1229.4 1912.78H2079M1229.4 1928.07H2079M1229.4 1943.36H2079M1229.4 1958.64H2079M1229.4 1973.93H2079M1229.4 1989.22H2079M1229.4 2004.51H2079M1229.4 2019.8H2079" stroke="#8a8a8a" stroke-width="1.35" stroke-dasharray="4.6 2.6" fill="none"/>
<path d="M1229.4 1870V2035M1342.6 1870V2035M1455.8 1870V2035M1569 1870V2035M1682.2 1870V2035M1795.4 1870V2035M1908.6 1870V2035M2021.8 1870V2035" stroke="#767676" stroke-width="1.35" stroke-dasharray="4.8 2.6" fill="none"/>
<rect x="1723.28" y="1977" width="343.22" height="45.3" rx="3" fill="#fff" fill-opacity="0.8" stroke="#d2d2d2" stroke-width="1.2"/>
<rect x="1730.18" y="1989.95" width="46.5" height="17" fill="#00bfbf"/>
<text transform="translate(1794.18 2008.39) scale(1 1.19)" font-size="22.28">importance score of DR</text>
<rect x="1229.4" y="1870" width="849.6" height="165" fill="none" stroke="#2a2a2a" stroke-width="2"/>
<path d="M1222.9 1882.2H1229.4M1222.9 1897.49H1229.4M1222.9 1912.78H1229.4M1222.9 1928.07H1229.4M1222.9 1943.36H1229.4M1222.9 1958.64H1229.4M1222.9 1973.93H1229.4M1222.9 1989.22H1229.4M1222.9 2004.51H1229.4M1222.9 2019.8H1229.4M1229.4 2035V2041.5M1342.6 2035V2041.5M1455.8 2035V2041.5M1569 2035V2041.5M1682.2 2035V2041.5M1795.4 2035V2041.5M1908.6 2035V2041.5M2021.8 2035V2041.5" stroke="#2a2a2a" stroke-width="1.8" fill="none"/>
<text transform="translate(1229.4 2065.3) scale(1 1.04)" font-size="17.3" text-anchor="middle">0</text>
<text transform="translate(1342.6 2065.3) scale(1 1.04)" font-size="17.3" text-anchor="middle">10</text>
<text transform="translate(1455.8 2065.3) scale(1 1.04)" font-size="17.3" text-anchor="middle">20</text>
<text transform="translate(1569 2065.3) scale(1 1.04)" font-size="17.3" text-anchor="middle">30</text>
<text transform="translate(1682.2 2065.3) scale(1 1.04)" font-size="17.3" text-anchor="middle">40</text>
<text transform="translate(1795.4 2065.3) scale(1 1.04)" font-size="17.3" text-anchor="middle">50</text>
<text transform="translate(1908.6 2065.3) scale(1 1.04)" font-size="17.3" text-anchor="middle">60</text>
<text transform="translate(2021.8 2065.3) scale(1 1.04)" font-size="17.3" text-anchor="middle">70</text>
<text transform="translate(1213 1892.09) scale(1 1.08)" font-size="16.7" text-anchor="end">diff_ndvi_505_825</text>
<text transform="translate(1213 1907.38) scale(1 1.08)" font-size="16.7" text-anchor="end">diff_ndvi_505_910</text>
<text transform="translate(1213 1922.67) scale(1 1.08)" font-size="16.7" text-anchor="end">B7_502</text>
<text transform="translate(1213 1937.96) scale(1 1.08)" font-size="16.7" text-anchor="end">mre_ndvi_502</text>
<text transform="translate(1213 1953.25) scale(1 1.08)" font-size="16.7" text-anchor="end">B6_502</text>
<text transform="translate(1213 1968.54) scale(1 1.08)" font-size="16.7" text-anchor="end">re_ndvi_502</text>
<text transform="translate(1213 1983.83) scale(1 1.08)" font-size="16.7" text-anchor="end">B5_502</text>
<text transform="translate(1213 1999.12) scale(1 1.08)" font-size="16.7" text-anchor="end">diff_ndvi_505_909</text>
<text transform="translate(1213 2014.4) scale(1 1.08)" font-size="16.7" text-anchor="end">mre_sr_909</text>
<text transform="translate(1213 2029.69) scale(1 1.08)" font-size="16.7" text-anchor="end">re_ndvi_909</text>
<rect x="208.5" y="2272.05" width="702.52" height="12.1" fill="#1f77b4"/>
<rect x="208.5" y="2287.17" width="139.33" height="12.1" fill="#1f77b4"/>
<rect x="208.5" y="2302.3" width="57.74" height="12.1" fill="#1f77b4"/>
<rect x="208.5" y="2317.42" width="43.28" height="12.1" fill="#1f77b4"/>
<rect x="208.5" y="2332.54" width="35.03" height="12.1" fill="#1f77b4"/>
<rect x="208.5" y="2347.66" width="15.14" height="12.1" fill="#1f77b4"/>
<rect x="208.5" y="2362.78" width="13.9" height="12.1" fill="#1f77b4"/>
<rect x="208.5" y="2377.91" width="13.9" height="12.1" fill="#1f77b4"/>
<rect x="208.5" y="2393.03" width="11.07" height="12.1" fill="#1f77b4"/>
<rect x="208.5" y="2408.15" width="11.07" height="12.1" fill="#1f77b4"/>
<path d="M208.5 2279.3H1055.8M208.5 2294.42H1055.8M208.5 2309.54H1055.8M208.5 2324.67H1055.8M208.5 2339.79H1055.8M208.5 2354.91H1055.8M208.5 2370.03H1055.8M208.5 2385.16H1055.8M208.5 2400.28H1055.8M208.5 2415.4H1055.8" stroke="#8a8a8a" stroke-width="1.35" stroke-dasharray="4.6 2.6" fill="none"/>
<path d="M208.5 2264.8V2428.1M321.5 2264.8V2428.1M434.5 2264.8V2428.1M547.5 2264.8V2428.1M660.5 2264.8V2428.1M773.5 2264.8V2428.1M886.5 2264.8V2428.1M999.5 2264.8V2428.1" stroke="#767676" stroke-width="1.35" stroke-dasharray="4.8 2.6" fill="none"/>
<rect x="692.84" y="2372.5" width="351.66" height="43.7" rx="3" fill="#fff" fill-opacity="0.8" stroke="#d2d2d2" stroke-width="1.2"/>
<rect x="699.74" y="2384.65" width="46.5" height="17" fill="#1f77b4"/>
<text transform="translate(763.74 2403.66) scale(1 1.17)" font-size="22.1">importance score of BSP</text>
<rect x="208.5" y="2264.8" width="847.3" height="163.3" fill="none" stroke="#2a2a2a" stroke-width="2"/>
<path d="M202 2279.3H208.5M202 2294.42H208.5M202 2309.54H208.5M202 2324.67H208.5M202 2339.79H208.5M202 2354.91H208.5M202 2370.03H208.5M202 2385.16H208.5M202 2400.28H208.5M202 2415.4H208.5M208.5 2428.1V2434.6M321.5 2428.1V2434.6M434.5 2428.1V2434.6M547.5 2428.1V2434.6M660.5 2428.1V2434.6M773.5 2428.1V2434.6M886.5 2428.1V2434.6M999.5 2428.1V2434.6" stroke="#2a2a2a" stroke-width="1.8" fill="none"/>
<text transform="translate(208.5 2458.6) scale(1 1.04)" font-size="17.3" text-anchor="middle">0</text>
<text transform="translate(321.5 2458.6) scale(1 1.04)" font-size="17.3" text-anchor="middle">10</text>
<text transform="translate(434.5 2458.6) scale(1 1.04)" font-size="17.3" text-anchor="middle">20</text>
<text transform="translate(547.5 2458.6) scale(1 1.04)" font-size="17.3" text-anchor="middle">30</text>
<text transform="translate(660.5 2458.6) scale(1 1.04)" font-size="17.3" text-anchor="middle">40</text>
<text transform="translate(773.5 2458.6) scale(1 1.04)" font-size="17.3" text-anchor="middle">50</text>
<text transform="translate(886.5 2458.6) scale(1 1.04)" font-size="17.3" text-anchor="middle">60</text>
<text transform="translate(999.5 2458.6) scale(1 1.04)" font-size="17.3" text-anchor="middle">70</text>
<text transform="translate(193.2 2288.75) scale(1 1.1)" font-size="16.55" text-anchor="end">ndvi_505</text>
<text transform="translate(193.2 2303.88) scale(1 1.1)" font-size="16.55" text-anchor="end">ndsi_505</text>
<text transform="translate(193.2 2319) scale(1 1.1)" font-size="16.55" text-anchor="end">ndbi_909</text>
<text transform="translate(193.2 2334.12) scale(1 1.1)" font-size="16.55" text-anchor="end">ndbi_825</text>
<text transform="translate(193.2 2349.24) scale(1 1.1)" font-size="16.55" text-anchor="end">ndbi_910</text>
<text transform="translate(193.2 2364.36) scale(1 1.1)" font-size="16.55" text-anchor="end">pca2_502</text>
<text transform="translate(193.2 2379.49) scale(1 1.1)" font-size="16.55" text-anchor="end">mndwi_505</text>
<text transform="translate(193.2 2394.61) scale(1 1.1)" font-size="16.55" text-anchor="end">pca1_505</text>
<text transform="translate(193.2 2409.73) scale(1 1.1)" font-size="16.55" text-anchor="end">B8_502</text>
<text transform="translate(193.2 2424.85) scale(1 1.1)" font-size="16.55" text-anchor="end">pca2_505</text>
<rect x="208.5" y="2468.05" width="617.09" height="12.1" fill="#1f77b4"/>
<rect x="208.5" y="2483.17" width="218.54" height="12.1" fill="#1f77b4"/>
<rect x="208.5" y="2498.3" width="56.5" height="12.1" fill="#1f77b4"/>
<rect x="208.5" y="2513.42" width="38.08" height="12.1" fill="#1f77b4"/>
<rect x="208.5" y="2528.54" width="26.22" height="12.1" fill="#1f77b4"/>
<rect x="208.5" y="2543.66" width="24.52" height="12.1" fill="#1f77b4"/>
<rect x="208.5" y="2558.79" width="20.45" height="12.1" fill="#1f77b4"/>
<rect x="208.5" y="2573.91" width="19.1" height="12.1" fill="#1f77b4"/>
<rect x="208.5" y="2589.03" width="12.43" height="12.1" fill="#1f77b4"/>
<rect x="208.5" y="2604.15" width="7.12" height="12.1" fill="#1f77b4"/>
<path d="M208.5 2475.3H1055.8M208.5 2490.42H1055.8M208.5 2505.55H1055.8M208.5 2520.67H1055.8M208.5 2535.79H1055.8M208.5 2550.91H1055.8M208.5 2566.04H1055.8M208.5 2581.16H1055.8M208.5 2596.28H1055.8M208.5 2611.4H1055.8" stroke="#8a8a8a" stroke-width="1.35" stroke-dasharray="4.6 2.6" fill="none"/>
<path d="M208.5 2461.6V2624.9M321.5 2461.6V2624.9M434.5 2461.6V2624.9M547.5 2461.6V2624.9M660.5 2461.6V2624.9M773.5 2461.6V2624.9M886.5 2461.6V2624.9M999.5 2461.6V2624.9" stroke="#767676" stroke-width="1.35" stroke-dasharray="4.8 2.6" fill="none"/>
<rect x="690.81" y="2569.3" width="353.69" height="43.7" rx="3" fill="#fff" fill-opacity="0.8" stroke="#d2d2d2" stroke-width="1.2"/>
<rect x="697.71" y="2581.45" width="46.5" height="17" fill="#1f77b4"/>
<text transform="translate(761.71 2600.46) scale(1 1.17)" font-size="22.1">importance score of BSR</text>
<rect x="208.5" y="2461.6" width="847.3" height="163.3" fill="none" stroke="#2a2a2a" stroke-width="2"/>
<path d="M202 2475.3H208.5M202 2490.42H208.5M202 2505.55H208.5M202 2520.67H208.5M202 2535.79H208.5M202 2550.91H208.5M202 2566.04H208.5M202 2581.16H208.5M202 2596.28H208.5M202 2611.4H208.5M208.5 2624.9V2631.4M321.5 2624.9V2631.4M434.5 2624.9V2631.4M547.5 2624.9V2631.4M660.5 2624.9V2631.4M773.5 2624.9V2631.4M886.5 2624.9V2631.4M999.5 2624.9V2631.4" stroke="#2a2a2a" stroke-width="1.8" fill="none"/>
<text transform="translate(208.5 2655.4) scale(1 1.04)" font-size="17.3" text-anchor="middle">0</text>
<text transform="translate(321.5 2655.4) scale(1 1.04)" font-size="17.3" text-anchor="middle">10</text>
<text transform="translate(434.5 2655.4) scale(1 1.04)" font-size="17.3" text-anchor="middle">20</text>
<text transform="translate(547.5 2655.4) scale(1 1.04)" font-size="17.3" text-anchor="middle">30</text>
<text transform="translate(660.5 2655.4) scale(1 1.04)" font-size="17.3" text-anchor="middle">40</text>
<text transform="translate(773.5 2655.4) scale(1 1.04)" font-size="17.3" text-anchor="middle">50</text>
<text transform="translate(886.5 2655.4) scale(1 1.04)" font-size="17.3" text-anchor="middle">60</text>
<text transform="translate(999.5 2655.4) scale(1 1.04)" font-size="17.3" text-anchor="middle">70</text>
<text transform="translate(193.2 2484.75) scale(1 1.1)" font-size="16.55" text-anchor="end">ndvi_505</text>
<text transform="translate(193.2 2499.88) scale(1 1.1)" font-size="16.55" text-anchor="end">ndsi_505</text>
<text transform="translate(193.2 2515) scale(1 1.1)" font-size="16.55" text-anchor="end">ndbi_909</text>
<text transform="translate(193.2 2530.12) scale(1 1.1)" font-size="16.55" text-anchor="end">ndbi_825</text>
<text transform="translate(193.2 2545.24) scale(1 1.1)" font-size="16.55" text-anchor="end">ndbi_910</text>
<text transform="translate(193.2 2560.37) scale(1 1.1)" font-size="16.55" text-anchor="end">B6_502</text>
<text transform="translate(193.2 2575.49) scale(1 1.1)" font-size="16.55" text-anchor="end">B7_502</text>
<text transform="translate(193.2 2590.61) scale(1 1.1)" font-size="16.55" text-anchor="end">mndwi_505</text>
<text transform="translate(193.2 2605.73) scale(1 1.1)" font-size="16.55" text-anchor="end">B5_505</text>
<text transform="translate(193.2 2620.86) scale(1 1.1)" font-size="16.55" text-anchor="end">B8_502</text>
<rect x="208.5" y="2664.36" width="791.23" height="12.07" fill="#1f77b4"/>
<rect x="208.5" y="2679.45" width="97.97" height="12.07" fill="#1f77b4"/>
<rect x="208.5" y="2694.54" width="63.05" height="12.07" fill="#1f77b4"/>
<rect x="208.5" y="2709.63" width="41.7" height="12.07" fill="#1f77b4"/>
<rect x="208.5" y="2724.72" width="24.52" height="12.07" fill="#1f77b4"/>
<rect x="208.5" y="2739.81" width="19.21" height="12.07" fill="#1f77b4"/>
<rect x="208.5" y="2754.9" width="7.91" height="12.07" fill="#1f77b4"/>
<rect x="208.5" y="2769.99" width="5.31" height="12.07" fill="#1f77b4"/>
<rect x="208.5" y="2785.08" width="4.18" height="12.07" fill="#1f77b4"/>
<rect x="208.5" y="2800.16" width="4.18" height="12.07" fill="#1f77b4"/>
<path d="M208.5 2671.6H1055.8M208.5 2686.69H1055.8M208.5 2701.78H1055.8M208.5 2716.87H1055.8M208.5 2731.96H1055.8M208.5 2747.04H1055.8M208.5 2762.13H1055.8M208.5 2777.22H1055.8M208.5 2792.31H1055.8M208.5 2807.4H1055.8" stroke="#8a8a8a" stroke-width="1.35" stroke-dasharray="4.6 2.6" fill="none"/>
<path d="M208.5 2658.4V2821.7M321.5 2658.4V2821.7M434.5 2658.4V2821.7M547.5 2658.4V2821.7M660.5 2658.4V2821.7M773.5 2658.4V2821.7M886.5 2658.4V2821.7M999.5 2658.4V2821.7" stroke="#767676" stroke-width="1.35" stroke-dasharray="4.8 2.6" fill="none"/>
<rect x="691.13" y="2766.1" width="353.37" height="43.7" rx="3" fill="#fff" fill-opacity="0.8" stroke="#d2d2d2" stroke-width="1.2"/>
<rect x="698.03" y="2778.25" width="46.5" height="17" fill="#1f77b4"/>
<text transform="translate(762.03 2797.26) scale(1 1.17)" font-size="22.1">importance score of BPR</text>
<rect x="208.5" y="2658.4" width="847.3" height="163.3" fill="none" stroke="#2a2a2a" stroke-width="2"/>
<path d="M202 2671.6H208.5M202 2686.69H208.5M202 2701.78H208.5M202 2716.87H208.5M202 2731.96H208.5M202 2747.04H208.5M202 2762.13H208.5M202 2777.22H208.5M202 2792.31H208.5M202 2807.4H208.5M208.5 2821.7V2828.2M321.5 2821.7V2828.2M434.5 2821.7V2828.2M547.5 2821.7V2828.2M660.5 2821.7V2828.2M773.5 2821.7V2828.2M886.5 2821.7V2828.2M999.5 2821.7V2828.2" stroke="#2a2a2a" stroke-width="1.8" fill="none"/>
<text transform="translate(208.5 2852.2) scale(1 1.04)" font-size="17.3" text-anchor="middle">0</text>
<text transform="translate(321.5 2852.2) scale(1 1.04)" font-size="17.3" text-anchor="middle">10</text>
<text transform="translate(434.5 2852.2) scale(1 1.04)" font-size="17.3" text-anchor="middle">20</text>
<text transform="translate(547.5 2852.2) scale(1 1.04)" font-size="17.3" text-anchor="middle">30</text>
<text transform="translate(660.5 2852.2) scale(1 1.04)" font-size="17.3" text-anchor="middle">40</text>
<text transform="translate(773.5 2852.2) scale(1 1.04)" font-size="17.3" text-anchor="middle">50</text>
<text transform="translate(886.5 2852.2) scale(1 1.04)" font-size="17.3" text-anchor="middle">60</text>
<text transform="translate(999.5 2852.2) scale(1 1.04)" font-size="17.3" text-anchor="middle">70</text>
<text transform="translate(193.2 2681.05) scale(1 1.1)" font-size="16.55" text-anchor="end">re_ndvi_502</text>
<text transform="translate(193.2 2696.14) scale(1 1.1)" font-size="16.55" text-anchor="end">B7_502</text>
<text transform="translate(193.2 2711.23) scale(1 1.1)" font-size="16.55" text-anchor="end">B8_502</text>
<text transform="translate(193.2 2726.32) scale(1 1.1)" font-size="16.55" text-anchor="end">B5_505</text>
<text transform="translate(193.2 2741.41) scale(1 1.1)" font-size="16.55" text-anchor="end">B3_606</text>
<text transform="translate(193.2 2756.5) scale(1 1.1)" font-size="16.55" text-anchor="end">B6_502</text>
<text transform="translate(193.2 2771.59) scale(1 1.1)" font-size="16.55" text-anchor="end">B2_825</text>
<text transform="translate(193.2 2786.68) scale(1 1.1)" font-size="16.55" text-anchor="end">B4_910</text>
<text transform="translate(193.2 2801.76) scale(1 1.1)" font-size="16.55" text-anchor="end">B4_825</text>
<text transform="translate(193.2 2816.85) scale(1 1.1)" font-size="16.55" text-anchor="end">pca2_505</text>
<rect x="208.5" y="2859.48" width="817.1" height="12.23" fill="#1f77b4"/>
<rect x="208.5" y="2874.77" width="122.27" height="12.23" fill="#1f77b4"/>
<rect x="208.5" y="2890.06" width="57.74" height="12.23" fill="#1f77b4"/>
<rect x="208.5" y="2905.35" width="52.55" height="12.23" fill="#1f77b4"/>
<rect x="208.5" y="2920.64" width="15.03" height="12.23" fill="#1f77b4"/>
<rect x="208.5" y="2935.93" width="12.09" height="12.23" fill="#1f77b4"/>
<rect x="208.5" y="2951.22" width="2.94" height="12.23" fill="#1f77b4"/>
<rect x="208.5" y="2966.51" width="2" height="12.23" fill="#1f77b4"/>
<rect x="208.5" y="2981.8" width="2" height="12.23" fill="#1f77b4"/>
<rect x="208.5" y="2997.08" width="2" height="12.23" fill="#1f77b4"/>
<path d="M208.5 2866.8H1055.8M208.5 2882.09H1055.8M208.5 2897.38H1055.8M208.5 2912.67H1055.8M208.5 2927.96H1055.8M208.5 2943.24H1055.8M208.5 2958.53H1055.8M208.5 2973.82H1055.8M208.5 2989.11H1055.8M208.5 3004.4H1055.8" stroke="#8a8a8a" stroke-width="1.35" stroke-dasharray="4.6 2.6" fill="none"/>
<path d="M208.5 2855.2V3018.5M321.5 2855.2V3018.5M434.5 2855.2V3018.5M547.5 2855.2V3018.5M660.5 2855.2V3018.5M773.5 2855.2V3018.5M886.5 2855.2V3018.5M999.5 2855.2V3018.5" stroke="#767676" stroke-width="1.35" stroke-dasharray="4.8 2.6" fill="none"/>
<rect x="690.6" y="2962.9" width="353.9" height="43.7" rx="3" fill="#fff" fill-opacity="0.8" stroke="#d2d2d2" stroke-width="1.2"/>
<rect x="697.5" y="2975.05" width="46.5" height="17" fill="#1f77b4"/>
<text transform="translate(761.5 2994.06) scale(1 1.17)" font-size="22.1">importance score of SPD</text>
<rect x="208.5" y="2855.2" width="847.3" height="163.3" fill="none" stroke="#2a2a2a" stroke-width="2"/>
<path d="M202 2866.8H208.5M202 2882.09H208.5M202 2897.38H208.5M202 2912.67H208.5M202 2927.96H208.5M202 2943.24H208.5M202 2958.53H208.5M202 2973.82H208.5M202 2989.11H208.5M202 3004.4H208.5M208.5 3018.5V3025M321.5 3018.5V3025M434.5 3018.5V3025M547.5 3018.5V3025M660.5 3018.5V3025M773.5 3018.5V3025M886.5 3018.5V3025M999.5 3018.5V3025" stroke="#2a2a2a" stroke-width="1.8" fill="none"/>
<text transform="translate(208.5 3049) scale(1 1.04)" font-size="17.3" text-anchor="middle">0</text>
<text transform="translate(321.5 3049) scale(1 1.04)" font-size="17.3" text-anchor="middle">10</text>
<text transform="translate(434.5 3049) scale(1 1.04)" font-size="17.3" text-anchor="middle">20</text>
<text transform="translate(547.5 3049) scale(1 1.04)" font-size="17.3" text-anchor="middle">30</text>
<text transform="translate(660.5 3049) scale(1 1.04)" font-size="17.3" text-anchor="middle">40</text>
<text transform="translate(773.5 3049) scale(1 1.04)" font-size="17.3" text-anchor="middle">50</text>
<text transform="translate(886.5 3049) scale(1 1.04)" font-size="17.3" text-anchor="middle">60</text>
<text transform="translate(999.5 3049) scale(1 1.04)" font-size="17.3" text-anchor="middle">70</text>
<text transform="translate(193.2 2876.25) scale(1 1.1)" font-size="16.55" text-anchor="end">diff_ndvi_505_825</text>
<text transform="translate(193.2 2891.54) scale(1 1.1)" font-size="16.55" text-anchor="end">diff_ndvi_505_910</text>
<text transform="translate(193.2 2906.83) scale(1 1.1)" font-size="16.55" text-anchor="end">pca1_505</text>
<text transform="translate(193.2 2922.12) scale(1 1.1)" font-size="16.55" text-anchor="end">mndwi_505</text>
<text transform="translate(193.2 2937.41) scale(1 1.1)" font-size="16.55" text-anchor="end">diff_ndvi_505_909</text>
<text transform="translate(193.2 2952.7) scale(1 1.1)" font-size="16.55" text-anchor="end">pca1_502</text>
<text transform="translate(193.2 2967.99) scale(1 1.1)" font-size="16.55" text-anchor="end">pca3_606</text>
<text transform="translate(193.2 2983.28) scale(1 1.1)" font-size="16.55" text-anchor="end">ndsi_505</text>
<text transform="translate(193.2 2998.56) scale(1 1.1)" font-size="16.55" text-anchor="end">pca2_825</text>
<text transform="translate(193.2 3013.85) scale(1 1.1)" font-size="16.55" text-anchor="end">mndwi_606</text>
<rect x="208.5" y="3056" width="787.72" height="12.2" fill="#1f77b4"/>
<rect x="208.5" y="3071.25" width="151.08" height="12.2" fill="#1f77b4"/>
<rect x="208.5" y="3086.49" width="81.93" height="12.2" fill="#1f77b4"/>
<rect x="208.5" y="3101.74" width="25.99" height="12.2" fill="#1f77b4"/>
<rect x="208.5" y="3116.98" width="8.25" height="12.2" fill="#1f77b4"/>
<rect x="208.5" y="3132.22" width="8.25" height="12.2" fill="#1f77b4"/>
<rect x="208.5" y="3147.47" width="8.25" height="12.2" fill="#1f77b4"/>
<rect x="208.5" y="3162.71" width="6.89" height="12.2" fill="#1f77b4"/>
<rect x="208.5" y="3177.96" width="2.94" height="12.2" fill="#1f77b4"/>
<rect x="208.5" y="3193.2" width="2.94" height="12.2" fill="#1f77b4"/>
<path d="M208.5 3063.3H1055.8M208.5 3078.54H1055.8M208.5 3093.79H1055.8M208.5 3109.03H1055.8M208.5 3124.28H1055.8M208.5 3139.52H1055.8M208.5 3154.77H1055.8M208.5 3170.01H1055.8M208.5 3185.26H1055.8M208.5 3200.5H1055.8" stroke="#8a8a8a" stroke-width="1.35" stroke-dasharray="4.6 2.6" fill="none"/>
<path d="M208.5 3052V3215.3M321.5 3052V3215.3M434.5 3052V3215.3M547.5 3052V3215.3M660.5 3052V3215.3M773.5 3052V3215.3M886.5 3052V3215.3M999.5 3052V3215.3" stroke="#767676" stroke-width="1.35" stroke-dasharray="4.8 2.6" fill="none"/>
<rect x="689.28" y="3159.7" width="355.22" height="43.7" rx="3" fill="#fff" fill-opacity="0.8" stroke="#d2d2d2" stroke-width="1.2"/>
<rect x="696.18" y="3171.85" width="46.5" height="17" fill="#1f77b4"/>
<text transform="translate(760.18 3190.86) scale(1 1.17)" font-size="22.1">importance score of PDR</text>
<rect x="208.5" y="3052" width="847.3" height="163.3" fill="none" stroke="#2a2a2a" stroke-width="2"/>
<path d="M202 3063.3H208.5M202 3078.54H208.5M202 3093.79H208.5M202 3109.03H208.5M202 3124.28H208.5M202 3139.52H208.5M202 3154.77H208.5M202 3170.01H208.5M202 3185.26H208.5M202 3200.5H208.5M208.5 3215.3V3221.8M321.5 3215.3V3221.8M434.5 3215.3V3221.8M547.5 3215.3V3221.8M660.5 3215.3V3221.8M773.5 3215.3V3221.8M886.5 3215.3V3221.8M999.5 3215.3V3221.8" stroke="#2a2a2a" stroke-width="1.8" fill="none"/>
<text transform="translate(208.5 3245.8) scale(1 1.04)" font-size="17.3" text-anchor="middle">0</text>
<text transform="translate(321.5 3245.8) scale(1 1.04)" font-size="17.3" text-anchor="middle">10</text>
<text transform="translate(434.5 3245.8) scale(1 1.04)" font-size="17.3" text-anchor="middle">20</text>
<text transform="translate(547.5 3245.8) scale(1 1.04)" font-size="17.3" text-anchor="middle">30</text>
<text transform="translate(660.5 3245.8) scale(1 1.04)" font-size="17.3" text-anchor="middle">40</text>
<text transform="translate(773.5 3245.8) scale(1 1.04)" font-size="17.3" text-anchor="middle">50</text>
<text transform="translate(886.5 3245.8) scale(1 1.04)" font-size="17.3" text-anchor="middle">60</text>
<text transform="translate(999.5 3245.8) scale(1 1.04)" font-size="17.3" text-anchor="middle">70</text>
<text transform="translate(193.2 3072.75) scale(1 1.1)" font-size="16.55" text-anchor="end">diff_ndvi_505_825</text>
<text transform="translate(193.2 3088) scale(1 1.1)" font-size="16.55" text-anchor="end">diff_ndvi_505_910</text>
<text transform="translate(193.2 3103.24) scale(1 1.1)" font-size="16.55" text-anchor="end">pca1_505</text>
<text transform="translate(193.2 3118.49) scale(1 1.1)" font-size="16.55" text-anchor="end">pca1_502</text>
<text transform="translate(193.2 3133.73) scale(1 1.1)" font-size="16.55" text-anchor="end">pca2_825</text>
<text transform="translate(193.2 3148.98) scale(1 1.1)" font-size="16.55" text-anchor="end">B5_502</text>
<text transform="translate(193.2 3164.22) scale(1 1.1)" font-size="16.55" text-anchor="end">diff_ndvi_505_909</text>
<text transform="translate(193.2 3179.46) scale(1 1.1)" font-size="16.55" text-anchor="end">mre_ndvi_502</text>
<text transform="translate(193.2 3194.71) scale(1 1.1)" font-size="16.55" text-anchor="end">B7_502</text>
<text transform="translate(193.2 3209.95) scale(1 1.1)" font-size="16.55" text-anchor="end">pca1_910</text>
<rect x="1225.2" y="2272.04" width="798.01" height="12.12" fill="#1f77b4"/>
<rect x="1225.2" y="2287.19" width="142.48" height="12.12" fill="#1f77b4"/>
<rect x="1225.2" y="2302.33" width="90.23" height="12.12" fill="#1f77b4"/>
<rect x="1225.2" y="2317.48" width="25.43" height="12.12" fill="#1f77b4"/>
<rect x="1225.2" y="2332.62" width="13.9" height="12.12" fill="#1f77b4"/>
<rect x="1225.2" y="2347.76" width="7.46" height="12.12" fill="#1f77b4"/>
<rect x="1225.2" y="2362.91" width="7.46" height="12.12" fill="#1f77b4"/>
<rect x="1225.2" y="2378.05" width="7.46" height="12.12" fill="#1f77b4"/>
<rect x="1225.2" y="2393.2" width="4.63" height="12.12" fill="#1f77b4"/>
<rect x="1225.2" y="2408.34" width="2" height="12.12" fill="#1f77b4"/>
<path d="M1225.2 2279.3H2074M1225.2 2294.44H2074M1225.2 2309.59H2074M1225.2 2324.73H2074M1225.2 2339.88H2074M1225.2 2355.02H2074M1225.2 2370.17H2074M1225.2 2385.31H2074M1225.2 2400.46H2074M1225.2 2415.6H2074" stroke="#8a8a8a" stroke-width="1.35" stroke-dasharray="4.6 2.6" fill="none"/>
<path d="M1225.2 2264.8V2428.1M1338.2 2264.8V2428.1M1451.2 2264.8V2428.1M1564.2 2264.8V2428.1M1677.2 2264.8V2428.1M1790.2 2264.8V2428.1M1903.2 2264.8V2428.1M2016.2 2264.8V2428.1" stroke="#767676" stroke-width="1.35" stroke-dasharray="4.8 2.6" fill="none"/>
<rect x="1705.65" y="2372.5" width="355.35" height="43.7" rx="3" fill="#fff" fill-opacity="0.8" stroke="#d2d2d2" stroke-width="1.2"/>
<rect x="1712.55" y="2384.65" width="46.5" height="17" fill="#1f77b4"/>
<text transform="translate(1776.55 2403.66) scale(1 1.17)" font-size="22.1">importance score of BSD</text>
<rect x="1225.2" y="2264.8" width="848.8" height="163.3" fill="none" stroke="#2a2a2a" stroke-width="2"/>
<path d="M1218.7 2279.3H1225.2M1218.7 2294.44H1225.2M1218.7 2309.59H1225.2M1218.7 2324.73H1225.2M1218.7 2339.88H1225.2M1218.7 2355.02H1225.2M1218.7 2370.17H1225.2M1218.7 2385.31H1225.2M1218.7 2400.46H1225.2M1218.7 2415.6H1225.2M1225.2 2428.1V2434.6M1338.2 2428.1V2434.6M1451.2 2428.1V2434.6M1564.2 2428.1V2434.6M1677.2 2428.1V2434.6M1790.2 2428.1V2434.6M1903.2 2428.1V2434.6M2016.2 2428.1V2434.6" stroke="#2a2a2a" stroke-width="1.8" fill="none"/>
<text transform="translate(1225.2 2458.6) scale(1 1.04)" font-size="17.3" text-anchor="middle">0</text>
<text transform="translate(1338.2 2458.6) scale(1 1.04)" font-size="17.3" text-anchor="middle">10</text>
<text transform="translate(1451.2 2458.6) scale(1 1.04)" font-size="17.3" text-anchor="middle">20</text>
<text transform="translate(1564.2 2458.6) scale(1 1.04)" font-size="17.3" text-anchor="middle">30</text>
<text transform="translate(1677.2 2458.6) scale(1 1.04)" font-size="17.3" text-anchor="middle">40</text>
<text transform="translate(1790.2 2458.6) scale(1 1.04)" font-size="17.3" text-anchor="middle">50</text>
<text transform="translate(1903.2 2458.6) scale(1 1.04)" font-size="17.3" text-anchor="middle">60</text>
<text transform="translate(2016.2 2458.6) scale(1 1.04)" font-size="17.3" text-anchor="middle">70</text>
<text transform="translate(1209.9 2288.75) scale(1 1.1)" font-size="16.55" text-anchor="end">diff_ndvi_505_825</text>
<text transform="translate(1209.9 2303.9) scale(1 1.1)" font-size="16.55" text-anchor="end">diff_ndvi_505_910</text>
<text transform="translate(1209.9 2319.04) scale(1 1.1)" font-size="16.55" text-anchor="end">mndwi_505</text>
<text transform="translate(1209.9 2334.19) scale(1 1.1)" font-size="16.55" text-anchor="end">B3_505</text>
<text transform="translate(1209.9 2349.33) scale(1 1.1)" font-size="16.55" text-anchor="end">B2_505</text>
<text transform="translate(1209.9 2364.48) scale(1 1.1)" font-size="16.55" text-anchor="end">mndwi_502</text>
<text transform="translate(1209.9 2379.62) scale(1 1.1)" font-size="16.55" text-anchor="end">savi_505</text>
<text transform="translate(1209.9 2394.76) scale(1 1.1)" font-size="16.55" text-anchor="end">B8_502</text>
<text transform="translate(1209.9 2409.91) scale(1 1.1)" font-size="16.55" text-anchor="end">B5_505</text>
<text transform="translate(1209.9 2425.05) scale(1 1.1)" font-size="16.55" text-anchor="end">B7_910</text>
<rect x="1225.2" y="2468.05" width="819.93" height="12.1" fill="#1f77b4"/>
<rect x="1225.2" y="2483.17" width="117.76" height="12.1" fill="#1f77b4"/>
<rect x="1225.2" y="2498.3" width="81.47" height="12.1" fill="#1f77b4"/>
<rect x="1225.2" y="2513.42" width="30.62" height="12.1" fill="#1f77b4"/>
<rect x="1225.2" y="2528.54" width="17.85" height="12.1" fill="#1f77b4"/>
<rect x="1225.2" y="2543.66" width="6.33" height="12.1" fill="#1f77b4"/>
<rect x="1225.2" y="2558.79" width="4.07" height="12.1" fill="#1f77b4"/>
<rect x="1225.2" y="2573.91" width="2.94" height="12.1" fill="#1f77b4"/>
<rect x="1225.2" y="2589.03" width="2.94" height="12.1" fill="#1f77b4"/>
<rect x="1225.2" y="2604.15" width="2" height="12.1" fill="#1f77b4"/>
<path d="M1225.2 2475.3H2074M1225.2 2490.42H2074M1225.2 2505.55H2074M1225.2 2520.67H2074M1225.2 2535.79H2074M1225.2 2550.91H2074M1225.2 2566.04H2074M1225.2 2581.16H2074M1225.2 2596.28H2074M1225.2 2611.4H2074" stroke="#8a8a8a" stroke-width="1.35" stroke-dasharray="4.6 2.6" fill="none"/>
<path d="M1225.2 2461.6V2624.9M1338.2 2461.6V2624.9M1451.2 2461.6V2624.9M1564.2 2461.6V2624.9M1677.2 2461.6V2624.9M1790.2 2461.6V2624.9M1903.2 2461.6V2624.9M2016.2 2461.6V2624.9" stroke="#767676" stroke-width="1.35" stroke-dasharray="4.8 2.6" fill="none"/>
<rect x="1705.97" y="2569.3" width="355.03" height="43.7" rx="3" fill="#fff" fill-opacity="0.8" stroke="#d2d2d2" stroke-width="1.2"/>
<rect x="1712.87" y="2581.45" width="46.5" height="17" fill="#1f77b4"/>
<text transform="translate(1776.87 2600.46) scale(1 1.17)" font-size="22.1">importance score of BPD</text>
<rect x="1225.2" y="2461.6" width="848.8" height="163.3" fill="none" stroke="#2a2a2a" stroke-width="2"/>
<path d="M1218.7 2475.3H1225.2M1218.7 2490.42H1225.2M1218.7 2505.55H1225.2M1218.7 2520.67H1225.2M1218.7 2535.79H1225.2M1218.7 2550.91H1225.2M1218.7 2566.04H1225.2M1218.7 2581.16H1225.2M1218.7 2596.28H1225.2M1218.7 2611.4H1225.2M1225.2 2624.9V2631.4M1338.2 2624.9V2631.4M1451.2 2624.9V2631.4M1564.2 2624.9V2631.4M1677.2 2624.9V2631.4M1790.2 2624.9V2631.4M1903.2 2624.9V2631.4M2016.2 2624.9V2631.4" stroke="#2a2a2a" stroke-width="1.8" fill="none"/>
<text transform="translate(1225.2 2655.4) scale(1 1.04)" font-size="17.3" text-anchor="middle">0</text>
<text transform="translate(1338.2 2655.4) scale(1 1.04)" font-size="17.3" text-anchor="middle">10</text>
<text transform="translate(1451.2 2655.4) scale(1 1.04)" font-size="17.3" text-anchor="middle">20</text>
<text transform="translate(1564.2 2655.4) scale(1 1.04)" font-size="17.3" text-anchor="middle">30</text>
<text transform="translate(1677.2 2655.4) scale(1 1.04)" font-size="17.3" text-anchor="middle">40</text>
<text transform="translate(1790.2 2655.4) scale(1 1.04)" font-size="17.3" text-anchor="middle">50</text>
<text transform="translate(1903.2 2655.4) scale(1 1.04)" font-size="17.3" text-anchor="middle">60</text>
<text transform="translate(2016.2 2655.4) scale(1 1.04)" font-size="17.3" text-anchor="middle">70</text>
<text transform="translate(1209.9 2484.75) scale(1 1.1)" font-size="16.55" text-anchor="end">diff_ndvi_505_825</text>
<text transform="translate(1209.9 2499.88) scale(1 1.1)" font-size="16.55" text-anchor="end">diff_ndvi_505_910</text>
<text transform="translate(1209.9 2515) scale(1 1.1)" font-size="16.55" text-anchor="end">pca1_505</text>
<text transform="translate(1209.9 2530.12) scale(1 1.1)" font-size="16.55" text-anchor="end">pca1_502</text>
<text transform="translate(1209.9 2545.24) scale(1 1.1)" font-size="16.55" text-anchor="end">B3_505</text>
<text transform="translate(1209.9 2560.37) scale(1 1.1)" font-size="16.55" text-anchor="end">diff_ndvi_505_909</text>
<text transform="translate(1209.9 2575.49) scale(1 1.1)" font-size="16.55" text-anchor="end">B3_502</text>
<text transform="translate(1209.9 2590.61) scale(1 1.1)" font-size="16.55" text-anchor="end">B2_825</text>
<text transform="translate(1209.9 2605.73) scale(1 1.1)" font-size="16.55" text-anchor="end">B4_505</text>
<text transform="translate(1209.9 2620.86) scale(1 1.1)" font-size="16.55" text-anchor="end">B4_910</text>
<rect x="1225.2" y="2664.36" width="765.01" height="12.07" fill="#1f77b4"/>
<rect x="1225.2" y="2679.45" width="172.93" height="12.07" fill="#1f77b4"/>
<rect x="1225.2" y="2694.54" width="60.12" height="12.07" fill="#1f77b4"/>
<rect x="1225.2" y="2709.63" width="20.79" height="12.07" fill="#1f77b4"/>
<rect x="1225.2" y="2724.72" width="13.33" height="12.07" fill="#1f77b4"/>
<rect x="1225.2" y="2739.81" width="10.4" height="12.07" fill="#1f77b4"/>
<rect x="1225.2" y="2754.9" width="7.46" height="12.07" fill="#1f77b4"/>
<rect x="1225.2" y="2769.99" width="5.2" height="12.07" fill="#1f77b4"/>
<rect x="1225.2" y="2785.08" width="5.2" height="12.07" fill="#1f77b4"/>
<rect x="1225.2" y="2800.16" width="4.63" height="12.07" fill="#1f77b4"/>
<path d="M1225.2 2671.6H2074M1225.2 2686.69H2074M1225.2 2701.78H2074M1225.2 2716.87H2074M1225.2 2731.96H2074M1225.2 2747.04H2074M1225.2 2762.13H2074M1225.2 2777.22H2074M1225.2 2792.31H2074M1225.2 2807.4H2074" stroke="#8a8a8a" stroke-width="1.35" stroke-dasharray="4.6 2.6" fill="none"/>
<path d="M1225.2 2658.4V2821.7M1338.2 2658.4V2821.7M1451.2 2658.4V2821.7M1564.2 2658.4V2821.7M1677.2 2658.4V2821.7M1790.2 2658.4V2821.7M1903.2 2658.4V2821.7M2016.2 2658.4V2821.7" stroke="#767676" stroke-width="1.35" stroke-dasharray="4.8 2.6" fill="none"/>
<rect x="1703.94" y="2766.1" width="357.06" height="43.7" rx="3" fill="#fff" fill-opacity="0.8" stroke="#d2d2d2" stroke-width="1.2"/>
<rect x="1710.84" y="2778.25" width="46.5" height="17" fill="#1f77b4"/>
<text transform="translate(1774.84 2797.26) scale(1 1.17)" font-size="22.1">importance score of BDR</text>
<rect x="1225.2" y="2658.4" width="848.8" height="163.3" fill="none" stroke="#2a2a2a" stroke-width="2"/>
<path d="M1218.7 2671.6H1225.2M1218.7 2686.69H1225.2M1218.7 2701.78H1225.2M1218.7 2716.87H1225.2M1218.7 2731.96H1225.2M1218.7 2747.04H1225.2M1218.7 2762.13H1225.2M1218.7 2777.22H1225.2M1218.7 2792.31H1225.2M1218.7 2807.4H1225.2M1225.2 2821.7V2828.2M1338.2 2821.7V2828.2M1451.2 2821.7V2828.2M1564.2 2821.7V2828.2M1677.2 2821.7V2828.2M1790.2 2821.7V2828.2M1903.2 2821.7V2828.2M2016.2 2821.7V2828.2" stroke="#2a2a2a" stroke-width="1.8" fill="none"/>
<text transform="translate(1225.2 2852.2) scale(1 1.04)" font-size="17.3" text-anchor="middle">0</text>
<text transform="translate(1338.2 2852.2) scale(1 1.04)" font-size="17.3" text-anchor="middle">10</text>
<text transform="translate(1451.2 2852.2) scale(1 1.04)" font-size="17.3" text-anchor="middle">20</text>
<text transform="translate(1564.2 2852.2) scale(1 1.04)" font-size="17.3" text-anchor="middle">30</text>
<text transform="translate(1677.2 2852.2) scale(1 1.04)" font-size="17.3" text-anchor="middle">40</text>
<text transform="translate(1790.2 2852.2) scale(1 1.04)" font-size="17.3" text-anchor="middle">50</text>
<text transform="translate(1903.2 2852.2) scale(1 1.04)" font-size="17.3" text-anchor="middle">60</text>
<text transform="translate(2016.2 2852.2) scale(1 1.04)" font-size="17.3" text-anchor="middle">70</text>
<text transform="translate(1209.9 2681.05) scale(1 1.1)" font-size="16.55" text-anchor="end">diff_ndvi_505_825</text>
<text transform="translate(1209.9 2696.14) scale(1 1.1)" font-size="16.55" text-anchor="end">diff_ndvi_505_910</text>
<text transform="translate(1209.9 2711.23) scale(1 1.1)" font-size="16.55" text-anchor="end">B7_502</text>
<text transform="translate(1209.9 2726.32) scale(1 1.1)" font-size="16.55" text-anchor="end">B3_505</text>
<text transform="translate(1209.9 2741.41) scale(1 1.1)" font-size="16.55" text-anchor="end">B3_606</text>
<text transform="translate(1209.9 2756.5) scale(1 1.1)" font-size="16.55" text-anchor="end">B8_502</text>
<text transform="translate(1209.9 2771.59) scale(1 1.1)" font-size="16.55" text-anchor="end">B5_505</text>
<text transform="translate(1209.9 2786.68) scale(1 1.1)" font-size="16.55" text-anchor="end">B2_505</text>
<text transform="translate(1209.9 2801.76) scale(1 1.1)" font-size="16.55" text-anchor="end">B6_502</text>
<text transform="translate(1209.9 2816.85) scale(1 1.1)" font-size="16.55" text-anchor="end">B6_910</text>
<rect x="1225.2" y="2859.9" width="671.9" height="12.2" fill="#1f77b4"/>
<rect x="1225.2" y="2875.15" width="166.64" height="12.2" fill="#1f77b4"/>
<rect x="1225.2" y="2890.39" width="58.87" height="12.2" fill="#1f77b4"/>
<rect x="1225.2" y="2905.64" width="38.76" height="12.2" fill="#1f77b4"/>
<rect x="1225.2" y="2920.88" width="35.82" height="12.2" fill="#1f77b4"/>
<rect x="1225.2" y="2936.12" width="28.93" height="12.2" fill="#1f77b4"/>
<rect x="1225.2" y="2951.37" width="17.29" height="12.2" fill="#1f77b4"/>
<rect x="1225.2" y="2966.61" width="16.16" height="12.2" fill="#1f77b4"/>
<rect x="1225.2" y="2981.86" width="14.46" height="12.2" fill="#1f77b4"/>
<rect x="1225.2" y="2997.1" width="11.53" height="12.2" fill="#1f77b4"/>
<path d="M1225.2 2867.2H2074M1225.2 2882.44H2074M1225.2 2897.69H2074M1225.2 2912.93H2074M1225.2 2928.18H2074M1225.2 2943.42H2074M1225.2 2958.67H2074M1225.2 2973.91H2074M1225.2 2989.16H2074M1225.2 3004.4H2074" stroke="#8a8a8a" stroke-width="1.35" stroke-dasharray="4.6 2.6" fill="none"/>
<path d="M1225.2 2855.2V3018.5M1338.2 2855.2V3018.5M1451.2 2855.2V3018.5M1564.2 2855.2V3018.5M1677.2 2855.2V3018.5M1790.2 2855.2V3018.5M1903.2 2855.2V3018.5M2016.2 2855.2V3018.5" stroke="#767676" stroke-width="1.35" stroke-dasharray="4.8 2.6" fill="none"/>
<rect x="1708.76" y="2962.9" width="352.24" height="43.7" rx="3" fill="#fff" fill-opacity="0.8" stroke="#d2d2d2" stroke-width="1.2"/>
<rect x="1715.66" y="2975.05" width="46.5" height="17" fill="#1f77b4"/>
<text transform="translate(1779.66 2994.06) scale(1 1.17)" font-size="22.1">importance score of SPR</text>
<rect x="1225.2" y="2855.2" width="848.8" height="163.3" fill="none" stroke="#2a2a2a" stroke-width="2"/>
<path d="M1218.7 2867.2H1225.2M1218.7 2882.44H1225.2M1218.7 2897.69H1225.2M1218.7 2912.93H1225.2M1218.7 2928.18H1225.2M1218.7 2943.42H1225.2M1218.7 2958.67H1225.2M1218.7 2973.91H1225.2M1218.7 2989.16H1225.2M1218.7 3004.4H1225.2M1225.2 3018.5V3025M1338.2 3018.5V3025M1451.2 3018.5V3025M1564.2 3018.5V3025M1677.2 3018.5V3025M1790.2 3018.5V3025M1903.2 3018.5V3025M2016.2 3018.5V3025" stroke="#2a2a2a" stroke-width="1.8" fill="none"/>
<text transform="translate(1225.2 3049) scale(1 1.04)" font-size="17.3" text-anchor="middle">0</text>
<text transform="translate(1338.2 3049) scale(1 1.04)" font-size="17.3" text-anchor="middle">10</text>
<text transform="translate(1451.2 3049) scale(1 1.04)" font-size="17.3" text-anchor="middle">20</text>
<text transform="translate(1564.2 3049) scale(1 1.04)" font-size="17.3" text-anchor="middle">30</text>
<text transform="translate(1677.2 3049) scale(1 1.04)" font-size="17.3" text-anchor="middle">40</text>
<text transform="translate(1790.2 3049) scale(1 1.04)" font-size="17.3" text-anchor="middle">50</text>
<text transform="translate(1903.2 3049) scale(1 1.04)" font-size="17.3" text-anchor="middle">60</text>
<text transform="translate(2016.2 3049) scale(1 1.04)" font-size="17.3" text-anchor="middle">70</text>
<text transform="translate(1209.9 2876.65) scale(1 1.1)" font-size="16.55" text-anchor="end">ndvi_505</text>
<text transform="translate(1209.9 2891.9) scale(1 1.1)" font-size="16.55" text-anchor="end">ndsi_505</text>
<text transform="translate(1209.9 2907.14) scale(1 1.1)" font-size="16.55" text-anchor="end">ndbi_909</text>
<text transform="translate(1209.9 2922.39) scale(1 1.1)" font-size="16.55" text-anchor="end">ndbi_825</text>
<text transform="translate(1209.9 2937.63) scale(1 1.1)" font-size="16.55" text-anchor="end">ndbi_910</text>
<text transform="translate(1209.9 2952.88) scale(1 1.1)" font-size="16.55" text-anchor="end">B7_502</text>
<text transform="translate(1209.9 2968.12) scale(1 1.1)" font-size="16.55" text-anchor="end">pca1_505</text>
<text transform="translate(1209.9 2983.36) scale(1 1.1)" font-size="16.55" text-anchor="end">mndwi_505</text>
<text transform="translate(1209.9 2998.61) scale(1 1.1)" font-size="16.55" text-anchor="end">B6_502</text>
<text transform="translate(1209.9 3013.85) scale(1 1.1)" font-size="16.55" text-anchor="end">pca2_502</text>
<text x="444.6" y="986.77" font-family="'Liberation Serif', serif" font-size="53.15" text-anchor="middle" fill="#000" style="stroke-width:0" letter-spacing="-1.2">(<tspan font-weight="bold">a</tspan>)</text>
<text x="1587.5" y="986.77" font-family="'Liberation Serif', serif" font-size="53.15" text-anchor="middle" fill="#000" style="stroke-width:0" letter-spacing="0.2">(<tspan font-weight="bold">d</tspan>)</text>
<text x="1017.48" y="2170.47" font-family="'Liberation Serif', serif" font-size="53.15" text-anchor="middle" fill="#000" style="stroke-width:0" letter-spacing="-0.05">(<tspan font-weight="bold">b</tspan>)</text>
<text x="1016.65" y="3355.33" font-family="'Liberation Serif', serif" font-size="53.81" text-anchor="middle" fill="#000" style="stroke-width:0" letter-spacing="-1.5">(<tspan font-weight="bold">c</tspan>)</text>
</svg>
</body></html>
